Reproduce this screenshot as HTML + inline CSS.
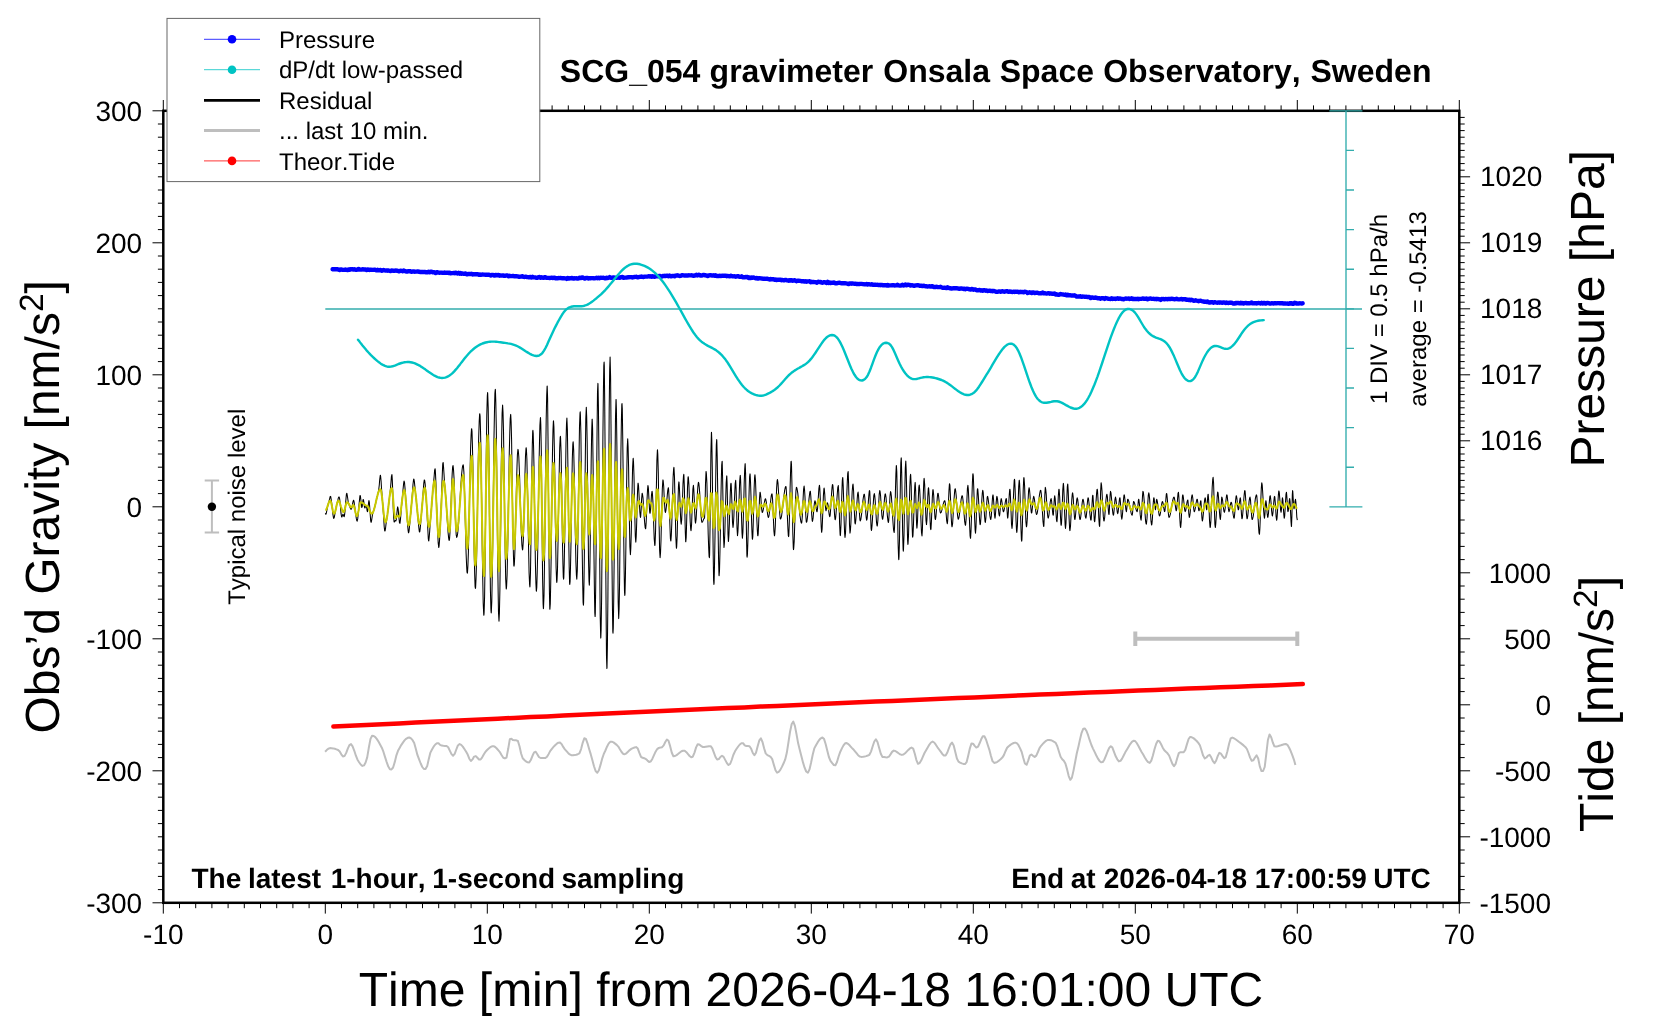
<!DOCTYPE html>
<html lang="en"><head><meta charset="utf-8"><title>SCG_054 gravimeter Onsala Space Observatory, Sweden</title>
<style>html,body{margin:0;padding:0;background:#fff;width:1660px;height:1020px;overflow:hidden}svg{display:block;will-change:transform;font-kerning:none}</style>
</head><body>
<svg width="1660" height="1020" viewBox="0 0 1660 1020" font-family='"Liberation Sans", Arial, Helvetica, sans-serif' text-rendering="geometricPrecision">
<rect width="1660" height="1020" fill="#fff"/>
<g id="curves">
<path d="M325.3,309H1362" stroke="#32adad" stroke-width="1.35" fill="none"/>
<path d="M332.6,269.2 333.6,269.3 334.6,269.3 335.6,269.1 336.6,269.3 337.6,269.2 338.6,269.6 339.6,270 340.6,269.5 341.6,269.5 342.6,269.9 343.6,269.9 344.6,269.8 345.6,269.5 346.6,269.8 347.6,270 348.6,269.4 349.6,269.7 350.6,269.2 351.6,269.4 352.6,269.2 353.6,269.6 354.6,269.3 355.6,269.7 356.6,269.7 357.6,269.6 358.6,268.9 359.6,269.5 360.6,269.6 361.6,269.6 362.6,269.2 363.6,269.5 364.6,269.4 365.6,269.4 366.6,270 367.6,269.5 368.6,269.7 369.6,270 370.6,269.6 371.6,269.8 372.6,269.9 373.6,269.9 374.6,269.6 375.6,270 376.6,270.4 377.6,269.7 378.6,270.4 379.6,270.2 380.6,270 381.6,270.8 382.6,270.5 383.6,270 384.6,270.4 385.6,270.6 386.6,270.4 387.6,270.7 388.6,270.5 389.6,270.8 390.6,271 391.6,270.5 392.6,270.7 393.6,270.6 394.6,270.8 395.6,270.5 396.6,270.7 397.6,270.8 398.6,271.2 399.6,271.3 400.6,270.6 401.6,270.8 402.6,271.2 403.6,270.5 404.6,271 405.6,271.2 406.6,271.6 407.6,271.5 408.6,271.2 409.6,271.2 410.6,271.3 411.6,271.9 412.6,271.4 413.6,271.4 414.6,271.7 415.6,271.6 416.6,271.6 417.6,271.4 418.6,271.7 419.6,271.7 420.6,272.1 421.6,272 422.6,271.9 423.6,272.1 424.6,271.9 425.6,272.3 426.6,272.1 427.6,272.3 428.6,271.8 429.6,272.3 430.6,271.7 431.6,271.7 432.6,272.2 433.6,272.1 434.6,272.4 435.6,273 436.6,272.2 437.6,272.3 438.6,272.6 439.6,272.7 440.6,272.6 441.6,272.6 442.6,272.9 443.6,272.9 444.6,272.5 445.6,272.8 446.6,272.9 447.6,272.6 448.6,273 449.6,272.7 450.6,273.3 451.6,273.1 452.6,273.1 453.6,273 454.6,273.2 455.6,272.7 456.6,273 457.6,273.5 458.6,272.8 459.6,273.7 460.6,273 461.6,273.8 462.6,273.4 463.6,273.9 464.6,273.8 465.6,273.4 466.6,274.2 467.6,274.3 468.6,273.9 469.6,273.9 470.6,274 471.6,273.8 472.6,274.5 473.6,274.1 474.6,274.3 475.6,274.1 476.6,274.2 477.6,274.1 478.6,274.8 479.6,274.5 480.6,274.9 481.6,274.6 482.6,274.5 483.6,274.6 484.6,274.6 485.6,274.8 486.6,274.8 487.6,274.8 488.6,274.6 489.6,274.8 490.6,275.5 491.6,274.9 492.6,274.9 493.6,275.3 494.6,275.6 495.6,274.9 496.6,275.3 497.6,275.2 498.6,274.9 499.6,275.7 500.6,275.5 501.6,275.6 502.6,275.4 503.6,275.8 504.6,275.6 505.6,275.7 506.6,275.5 507.6,275.5 508.6,276.3 509.6,275.8 510.6,276.1 511.6,276.1 512.6,276 513.6,276 514.6,276.4 515.6,276.2 516.6,276.3 517.6,276.4 518.6,276.7 519.6,276.7 520.6,276.6 521.6,276.4 522.6,276.2 523.6,276.9 524.6,277 525.6,276.7 526.6,277 527.6,277.1 528.6,277.2 529.6,277.2 530.6,276.9 531.6,277.5 532.6,276.8 533.6,277.4 534.6,277.4 535.6,277.5 536.6,277.9 537.6,277.8 538.6,277.1 539.6,277 540.6,277.8 541.6,277.3 542.6,277.6 543.6,277.9 544.6,277.3 545.6,277.2 546.6,277.9 547.6,277.9 548.6,277.9 549.6,278 550.6,277.8 551.6,277.6 552.6,278 553.6,277.8 554.6,277.7 555.6,278.3 556.6,278.2 557.6,278.3 558.6,278 559.6,278.1 560.6,278 561.6,278.1 562.6,278.4 563.6,278.1 564.6,278.4 565.6,278.4 566.6,278.9 567.6,278 568.6,278.6 569.6,278.3 570.6,278.4 571.6,278 572.6,278.2 573.6,278.6 574.6,278.3 575.6,278.4 576.6,278.3 577.6,278.6 578.6,278.3 579.6,277.7 580.6,278.1 581.6,277.7 582.6,277.4 583.6,278.1 584.6,278.6 585.6,278.2 586.6,277.9 587.6,277.9 588.6,278.5 589.6,278.2 590.6,278.2 591.6,278.1 592.6,278.1 593.6,278.3 594.6,278.3 595.6,278.1 596.6,277.8 597.6,278.2 598.6,277.8 599.6,278.3 600.6,277.6 601.6,277.9 602.6,277.9 603.6,277.6 604.6,278.4 605.6,278.3 606.6,277.7 607.6,278 608.6,277.9 609.6,277.1 610.6,277.8 611.6,277.7 612.6,277.7 613.6,277.4 614.6,277.6 615.6,277.6 616.6,277.9 617.6,277.7 618.6,277.5 619.6,277.9 620.6,277.3 621.6,277.3 622.6,276.9 623.6,277.8 624.6,277.6 625.6,277.6 626.6,277.5 627.6,277.3 628.6,277.3 629.6,277.1 630.6,277.1 631.6,277.2 632.6,277.5 633.6,277.2 634.6,277 635.6,276.9 636.6,276.8 637.6,277.4 638.6,277.1 639.6,276.9 640.6,276.8 641.6,276.5 642.6,276.8 643.6,277 644.6,276.6 645.6,276.6 646.6,276.6 647.6,276.6 648.6,276.1 649.6,276.5 650.6,276.3 651.6,276.7 652.6,276.2 653.6,276.6 654.6,276.8 655.6,276.3 656.6,276.1 657.6,276.3 658.6,276.2 659.6,275.9 660.6,276.3 661.6,276.7 662.6,276 663.6,276 664.6,275.8 665.6,276.1 666.6,275.6 667.6,275.7 668.6,276.3 669.6,275.6 670.6,276.2 671.6,276.3 672.6,275.9 673.6,275.9 674.6,276.3 675.6,275.7 676.6,275.5 677.6,275.3 678.6,275.7 679.6,276 680.6,275.9 681.6,275.3 682.6,275.3 683.6,275.4 684.6,275.6 685.6,275.4 686.6,275.5 687.6,275.5 688.6,275.3 689.6,275.4 690.6,275.4 691.6,275.3 692.6,275.5 693.6,275.8 694.6,275.5 695.6,275.3 696.6,274.8 697.6,275.4 698.6,274.8 699.6,274.9 700.6,275.6 701.6,275.5 702.6,275.3 703.6,274.9 704.6,275.3 705.6,275.2 706.6,275.6 707.6,276.1 708.6,275.5 709.6,275.3 710.6,275.2 711.6,275.5 712.6,275.5 713.6,275.3 714.6,275.7 715.6,275.3 716.6,276 717.6,276 718.6,276.1 719.6,275.7 720.6,276 721.6,275.8 722.6,275.8 723.6,275.8 724.6,275.6 725.6,275.6 726.6,276.2 727.6,276 728.6,276.2 729.6,276.4 730.6,275.7 731.6,276 732.6,276.3 733.6,276.4 734.6,276.3 735.6,276.7 736.6,276.5 737.6,276.2 738.6,276.3 739.6,276.9 740.6,276.9 741.6,276.3 742.6,277.3 743.6,277.1 744.6,277.4 745.6,277 746.6,277.2 747.6,277 748.6,278.1 749.6,277.5 750.6,278.1 751.6,277.5 752.6,277.9 753.6,277.4 754.6,277.9 755.6,278.4 756.6,277.9 757.6,278.6 758.6,278.5 759.6,278.2 760.6,278.4 761.6,278.5 762.6,278.7 763.6,278.7 764.6,278.7 765.6,278.9 766.6,278.8 767.6,278.8 768.6,279.2 769.6,279.5 770.6,278.9 771.6,279.4 772.6,279.3 773.6,279.3 774.6,279.8 775.6,279.5 776.6,280.1 777.6,279.6 778.6,279.9 779.6,279.8 780.6,279.7 781.6,280.2 782.6,280 783.6,280.3 784.6,280.2 785.6,279.9 786.6,280.3 787.6,280.4 788.6,280.7 789.6,280.2 790.6,280.5 791.6,280.1 792.6,280.8 793.6,280.4 794.6,280.3 795.6,280.8 796.6,281.2 797.6,280.6 798.6,280.7 799.6,280.9 800.6,280.9 801.6,281.4 802.6,281.1 803.6,281.2 804.6,281.6 805.6,281.3 806.6,281.7 807.6,281.4 808.6,281.4 809.6,281.3 810.6,282.3 811.6,281.8 812.6,282 813.6,282 814.6,282.1 815.6,282.1 816.6,282.7 817.6,281.9 818.6,281.8 819.6,282.1 820.6,282 821.6,282.6 822.6,282.7 823.6,282.3 824.6,282.2 825.6,282.5 826.6,283 827.6,281.9 828.6,282.9 829.6,282.5 830.6,283.1 831.6,282.6 832.6,282.8 833.6,282.5 834.6,282.7 835.6,283.4 836.6,283.3 837.6,283 838.6,282.9 839.6,282.6 840.6,283.1 841.6,283.2 842.6,283.3 843.6,283.3 844.6,283.1 845.6,283.4 846.6,283.4 847.6,283.9 848.6,284.1 849.6,283.5 850.6,283.4 851.6,283.7 852.6,283.5 853.6,283.6 854.6,283.8 855.6,283.6 856.6,284.1 857.6,283.9 858.6,284.1 859.6,284 860.6,283.9 861.6,283.9 862.6,284.1 863.6,284.1 864.6,284.4 865.6,284.4 866.6,284 867.6,284.5 868.6,284.1 869.6,284.4 870.6,284.6 871.6,284.1 872.6,284.8 873.6,284.8 874.6,284.8 875.6,284.8 876.6,284.9 877.6,284.8 878.6,285 879.6,285 880.6,285.2 881.6,284.9 882.6,285.3 883.6,285.3 884.6,285.3 885.6,285.2 886.6,285.5 887.6,284.9 888.6,285.5 889.6,285.4 890.6,285.4 891.6,285.4 892.6,285.1 893.6,285.2 894.6,285.5 895.6,285.4 896.6,285.3 897.6,284.8 898.6,285.4 899.6,285.6 900.6,285.5 901.6,285.3 902.6,284.8 903.6,285.5 904.6,285.1 905.6,284.5 906.6,285.3 907.6,284.8 908.6,284.8 909.6,285 910.6,285.6 911.6,285.1 912.6,285.4 913.6,285.8 914.6,285.8 915.6,285.4 916.6,285.4 917.6,285.1 918.6,285.4 919.6,285.7 920.6,285.8 921.6,285.8 922.6,286.1 923.6,285.7 924.6,286 925.6,286.3 926.6,286.3 927.6,286.5 928.6,286.4 929.6,286.3 930.6,286.6 931.6,286.3 932.6,286.2 933.6,287 934.6,286.9 935.6,287.1 936.6,286.6 937.6,287.1 938.6,287.1 939.6,287.1 940.6,286.8 941.6,287.4 942.6,287.9 943.6,287.8 944.6,287.6 945.6,287.8 946.6,288.1 947.6,287.2 948.6,287.9 949.6,288.2 950.6,288.2 951.6,288.6 952.6,288.4 953.6,288.2 954.6,288.3 955.6,288.4 956.6,288.1 957.6,288.3 958.6,288.6 959.6,288.9 960.6,288.4 961.6,288.5 962.6,288.6 963.6,289 964.6,288.7 965.6,289.2 966.6,288.6 967.6,288.9 968.6,289 969.6,289.4 970.6,289.6 971.6,289 972.6,289.2 973.6,289.7 974.6,289.5 975.6,289.4 976.6,290.2 977.6,290.1 978.6,290.2 979.6,290 980.6,290.5 981.6,290.3 982.6,290.7 983.6,290.2 984.6,290.3 985.6,290.7 986.6,290.5 987.6,291 988.6,290.9 989.6,290.6 990.6,291 991.6,290.9 992.6,291.3 993.6,290.9 994.6,291.1 995.6,291.6 996.6,291.9 997.6,291.9 998.6,291.4 999.6,291.4 1000.6,291.9 1001.6,291.4 1002.6,291.2 1003.6,291.6 1004.6,291.7 1005.6,291.4 1006.6,291.2 1007.6,291.2 1008.6,291.9 1009.6,291.5 1010.6,291.7 1011.6,291.8 1012.6,292 1013.6,291.7 1014.6,292 1015.6,291.6 1016.6,291.8 1017.6,291.6 1018.6,292.3 1019.6,292 1020.6,291.8 1021.6,292 1022.6,292 1023.6,292.3 1024.6,291.7 1025.6,291.9 1026.6,292.1 1027.6,293 1028.6,292.6 1029.6,292.3 1030.6,292.6 1031.6,293 1032.6,292.4 1033.6,292.5 1034.6,293 1035.6,292.8 1036.6,292.9 1037.6,292.6 1038.6,293.4 1039.6,293.4 1040.6,293.1 1041.6,293.2 1042.6,292.5 1043.6,293.4 1044.6,293.2 1045.6,293.4 1046.6,293.6 1047.6,293.4 1048.6,293.1 1049.6,293.7 1050.6,293.5 1051.6,293.7 1052.6,293.7 1053.6,293.9 1054.6,293.4 1055.6,294.5 1056.6,294.3 1057.6,294.6 1058.6,294.9 1059.6,294.5 1060.6,294 1061.6,294.4 1062.6,294.4 1063.6,294.7 1064.6,294.9 1065.6,294.4 1066.6,295.2 1067.6,294.7 1068.6,295.3 1069.6,295.3 1070.6,295.3 1071.6,295.5 1072.6,295.4 1073.6,295.5 1074.6,295.3 1075.6,295.9 1076.6,296.5 1077.6,296.6 1078.6,296.5 1079.6,296.5 1080.6,296.2 1081.6,296.9 1082.6,296.5 1083.6,296.6 1084.6,296.7 1085.6,296.9 1086.6,296.8 1087.6,297 1088.6,296.9 1089.6,297.2 1090.6,298 1091.6,297.4 1092.6,297.5 1093.6,297.8 1094.6,297.9 1095.6,297.5 1096.6,297.9 1097.6,298.3 1098.6,298.2 1099.6,298.2 1100.6,298.7 1101.6,298.1 1102.6,298.4 1103.6,298.3 1104.6,298.9 1105.6,298 1106.6,298.4 1107.6,298.5 1108.6,298.9 1109.6,298.9 1110.6,299.1 1111.6,298.3 1112.6,299 1113.6,298.7 1114.6,298.6 1115.6,299 1116.6,298.6 1117.6,298.3 1118.6,298.8 1119.6,298.5 1120.6,298.7 1121.6,299 1122.6,299 1123.6,299.3 1124.6,298.8 1125.6,298.5 1126.6,298.7 1127.6,298.6 1128.6,298.5 1129.6,299 1130.6,298.7 1131.6,298.3 1132.6,299.1 1133.6,298.8 1134.6,299 1135.6,298.9 1136.6,299 1137.6,298.8 1138.6,299.2 1139.6,298.9 1140.6,298.9 1141.6,298.9 1142.6,298.4 1143.6,298.8 1144.6,298.8 1145.6,298.9 1146.6,298.5 1147.6,299.3 1148.6,298.9 1149.6,298.6 1150.6,298.4 1151.6,298.9 1152.6,298.9 1153.6,298.8 1154.6,299 1155.6,298.9 1156.6,299.2 1157.6,298.9 1158.6,299.1 1159.6,299.4 1160.6,299.9 1161.6,298.9 1162.6,299.1 1163.6,299 1164.6,299.4 1165.6,298.9 1166.6,299.1 1167.6,299.2 1168.6,298.9 1169.6,298.9 1170.6,299.1 1171.6,298.6 1172.6,298.8 1173.6,299.1 1174.6,299.2 1175.6,299.1 1176.6,298.7 1177.6,299.1 1178.6,299.4 1179.6,299.4 1180.6,299.2 1181.6,299 1182.6,299.5 1183.6,299.2 1184.6,299.1 1185.6,299.2 1186.6,299.9 1187.6,299.7 1188.6,300 1189.6,299.7 1190.6,300.2 1191.6,299.8 1192.6,300.1 1193.6,300.9 1194.6,300.6 1195.6,300.3 1196.6,300.6 1197.6,300.8 1198.6,301.2 1199.6,300.8 1200.6,300.6 1201.6,301.1 1202.6,301.3 1203.6,301.5 1204.6,301.9 1205.6,301.7 1206.6,302 1207.6,301.5 1208.6,302.2 1209.6,302.6 1210.6,302.3 1211.6,302.2 1212.6,302.3 1213.6,302.8 1214.6,302.1 1215.6,302.4 1216.6,302.6 1217.6,302.7 1218.6,302.4 1219.6,302.7 1220.6,302.5 1221.6,302.7 1222.6,302.7 1223.6,302.4 1224.6,302.7 1225.6,303 1226.6,302.5 1227.6,302.8 1228.6,303 1229.6,302.6 1230.6,302.9 1231.6,302.6 1232.6,303.2 1233.6,303.6 1234.6,303.5 1235.6,302.9 1236.6,303.2 1237.6,303 1238.6,303 1239.6,303.4 1240.6,302.7 1241.6,303.3 1242.6,303 1243.6,303.5 1244.6,303.1 1245.6,302.9 1246.6,303.2 1247.6,303.3 1248.6,303.1 1249.6,303.3 1250.6,303 1251.6,302.5 1252.6,303.4 1253.6,303.4 1254.6,303.2 1255.6,303.2 1256.6,303.5 1257.6,303.1 1258.6,303 1259.6,303.1 1260.6,303.5 1261.6,302.8 1262.6,303.5 1263.6,303 1264.6,302.9 1265.6,303.6 1266.6,303.2 1267.6,302.9 1268.6,303.1 1269.6,303.5 1270.6,303.6 1271.6,303.1 1272.6,303.4 1273.6,303.5 1274.6,303.1 1275.6,303.4 1276.6,303.3 1277.6,303.1 1278.6,303.1 1279.6,303.3 1280.6,303.3 1281.6,303.1 1282.6,303.2 1283.6,303.6 1284.6,303.4 1285.6,303.5 1286.6,303.6 1287.6,303.5 1288.6,303.9 1289.6,303.1 1290.6,303.5 1291.6,303.2 1292.6,303.8 1293.6,303.8 1294.6,302.8 1295.6,303 1296.6,303.5 1297.6,303.5 1298.6,303.5 1299.6,303.3 1300.6,303.4 1301.6,303.5 1302.6,303.3" fill="none" stroke="#0000ff" stroke-width="4.4" stroke-linecap="round" stroke-linejoin="round"/>
<path d="M358,339.7 359.5,341.6 361,343.6 362.5,345.5 364,347.3 365.5,349.1 367,350.9 368.5,352.5 370,354.1 371.5,355.7 373,357.1 374.5,358.5 376,359.8 377.5,361.1 379,362.3 380.5,363.4 382,364.4 383.5,365.2 385,365.9 386.5,366.4 388,366.7 389.5,366.8 391,366.6 392.5,366.3 394,365.8 395.5,365.3 397,364.7 398.5,364 400,363.5 401.5,363 403,362.6 404.5,362.3 406,362.1 407.5,362 409,362 410.5,362.2 412,362.5 413.5,362.9 415,363.4 416.5,364.1 418,364.8 419.5,365.6 421,366.6 422.5,367.5 424,368.6 425.5,369.6 427,370.7 428.5,371.8 430,372.8 431.5,373.8 433,374.8 434.5,375.7 436,376.4 437.5,377.1 439,377.5 440.5,377.9 442,378 443.5,377.9 445,377.6 446.5,377.1 448,376.4 449.5,375.5 451,374.4 452.5,373.1 454,371.6 455.5,369.9 457,368.2 458.5,366.3 460,364.4 461.5,362.4 463,360.5 464.5,358.6 466,356.7 467.5,355 469,353.3 470.5,351.7 472,350.3 473.5,349 475,347.8 476.5,346.7 478,345.7 479.5,344.9 481,344.2 482.5,343.5 484,343 485.5,342.5 487,342.2 488.5,341.9 490,341.7 491.5,341.6 493,341.6 494.5,341.6 496,341.7 497.5,341.9 499,342.1 500.5,342.3 502,342.5 503.5,342.7 505,342.9 506.5,343.1 508,343.4 509.5,343.6 511,343.9 512.5,344.3 514,344.8 515.5,345.3 517,346 518.5,346.8 520,347.6 521.5,348.5 523,349.5 524.5,350.5 526,351.5 527.5,352.4 529,353.3 530.5,354.2 532,354.9 533.5,355.4 535,355.8 536.5,356 538,355.8 539.5,355.3 541,354.3 542.5,352.8 544,350.6 545.5,348 547,344.9 548.5,341.6 550,338.2 551.5,334.9 553,331.7 554.5,328.6 556,325.6 557.5,322.7 559,320 560.5,317.3 562,314.8 563.5,312.6 565,310.7 566.5,309.2 568,308.1 569.5,307.3 571,306.8 572.5,306.5 574,306.3 575.5,306.3 577,306.3 578.5,306.3 580,306.3 581.5,306.2 583,306 584.5,305.7 586,305.2 587.5,304.6 589,303.7 590.5,302.8 592,301.7 593.5,300.6 595,299.4 596.5,298.2 598,296.9 599.5,295.6 601,294.3 602.5,292.8 604,291.3 605.5,289.8 607,288.1 608.5,286.4 610,284.6 611.5,282.8 613,280.9 614.5,279 616,277.2 617.5,275.4 619,273.7 620.5,272 622,270.4 623.5,269 625,267.7 626.5,266.6 628,265.7 629.5,264.9 631,264.4 632.5,264 634,263.8 635.5,263.7 637,263.8 638.5,264 640,264.3 641.5,264.8 643,265.3 644.5,265.9 646,266.6 647.5,267.4 649,268.3 650.5,269.3 652,270.4 653.5,271.6 655,272.9 656.5,274.4 658,276 659.5,277.7 661,279.4 662.5,281.3 664,283.3 665.5,285.4 667,287.6 668.5,289.9 670,292.2 671.5,294.6 673,297.1 674.5,299.6 676,302.2 677.5,304.8 679,307.5 680.5,310.2 682,312.9 683.5,315.6 685,318.3 686.5,321 688,323.6 689.5,326.2 691,328.6 692.5,331 694,333.3 695.5,335.3 697,337.2 698.5,338.9 700,340.4 701.5,341.7 703,342.8 704.5,343.8 706,344.7 707.5,345.6 709,346.4 710.5,347.1 712,347.9 713.5,348.7 715,349.6 716.5,350.6 718,351.7 719.5,353 721,354.4 722.5,355.9 724,357.7 725.5,359.6 727,361.7 728.5,364 730,366.4 731.5,368.9 733,371.4 734.5,373.9 736,376.3 737.5,378.7 739,380.9 740.5,383 742,384.9 743.5,386.7 745,388.3 746.5,389.7 748,391 749.5,392 751,392.9 752.5,393.7 754,394.3 755.5,394.9 757,395.3 758.5,395.6 760,395.8 761.5,395.7 763,395.5 764.5,395.1 766,394.6 767.5,393.9 769,393.2 770.5,392.4 772,391.5 773.5,390.6 775,389.5 776.5,388.3 778,387 779.5,385.5 781,383.9 782.5,382.2 784,380.5 785.5,378.7 787,377.1 788.5,375.5 790,374.1 791.5,372.8 793,371.7 794.5,370.6 796,369.7 797.5,368.8 799,368 800.5,367.1 802,366.3 803.5,365.4 805,364.5 806.5,363.4 808,362.1 809.5,360.6 811,358.9 812.5,357 814,354.9 815.5,352.7 817,350.4 818.5,348.1 820,345.8 821.5,343.6 823,341.5 824.5,339.6 826,338 827.5,336.7 829,335.8 830.5,335.2 832,335 833.5,335.2 835,335.9 836.5,337.1 838,338.8 839.5,341.1 841,343.9 842.5,347.1 844,350.5 845.5,354.2 847,358 848.5,361.8 850,365.5 851.5,369 853,372.1 854.5,374.8 856,377 857.5,378.7 859,379.8 860.5,380.4 862,380.5 863.5,380 865,379 866.5,377.3 868,374.8 869.5,371.5 871,367.7 872.5,363.6 874,359.4 875.5,355.5 877,352 878.5,349.1 880,346.7 881.5,344.9 883,343.7 884.5,343 886,342.8 887.5,343 889,343.7 890.5,345 892,347.1 893.5,349.9 895,353.2 896.5,356.7 898,360.2 899.5,363.5 901,366.5 902.5,369.2 904,371.5 905.5,373.5 907,375.3 908.5,376.7 910,377.8 911.5,378.6 913,379 914.5,379.1 916,379 917.5,378.7 919,378.3 920.5,377.9 922,377.6 923.5,377.3 925,377.1 926.5,377 928,377 929.5,377.1 931,377.3 932.5,377.5 934,377.8 935.5,378.1 937,378.5 938.5,379 940,379.5 941.5,380 943,380.7 944.5,381.4 946,382.2 947.5,383.1 949,384.2 950.5,385.3 952,386.4 953.5,387.6 955,388.8 956.5,389.9 958,391 959.5,392 961,392.9 962.5,393.7 964,394.3 965.5,394.8 967,395 968.5,395 970,394.7 971.5,394.2 973,393.3 974.5,392.2 976,390.7 977.5,388.8 979,386.7 980.5,384.4 982,382 983.5,379.6 985,377.1 986.5,374.7 988,372.3 989.5,369.8 991,367.3 992.5,364.7 994,362.2 995.5,359.7 997,357.2 998.5,354.8 1000,352.6 1001.5,350.5 1003,348.6 1004.5,346.9 1006,345.6 1007.5,344.5 1009,343.9 1010.5,343.6 1012,343.8 1013.5,344.5 1015,345.8 1016.5,347.7 1018,350.3 1019.5,353.5 1021,357.2 1022.5,361.3 1024,365.6 1025.5,370.1 1027,374.7 1028.5,379.1 1030,383.3 1031.5,387.2 1033,390.8 1034.5,393.9 1036,396.6 1037.5,398.7 1039,400.3 1040.5,401.5 1042,402.3 1043.5,402.7 1045,402.8 1046.5,402.8 1048,402.5 1049.5,402.2 1051,401.9 1052.5,401.5 1054,401.3 1055.5,401.1 1057,401.2 1058.5,401.5 1060,402 1061.5,402.7 1063,403.4 1064.5,404.2 1066,405.1 1067.5,405.9 1069,406.7 1070.5,407.5 1072,408 1073.5,408.5 1075,408.7 1076.5,408.7 1078,408.4 1079.5,407.8 1081,406.9 1082.5,405.7 1084,404.2 1085.5,402.3 1087,400.1 1088.5,397.5 1090,394.7 1091.5,391.5 1093,388.1 1094.5,384.5 1096,380.6 1097.5,376.6 1099,372.3 1100.5,367.9 1102,363.5 1103.5,358.9 1105,354.3 1106.5,349.8 1108,345.3 1109.5,340.9 1111,336.7 1112.5,332.6 1114,328.7 1115.5,325.1 1117,321.7 1118.5,318.7 1120,316 1121.5,313.7 1123,311.8 1124.5,310.4 1126,309.5 1127.5,309 1129,308.9 1130.5,309.3 1132,310 1133.5,311.1 1135,312.6 1136.5,314.6 1138,316.9 1139.5,319.4 1141,322 1142.5,324.5 1144,327 1145.5,329.1 1147,331 1148.5,332.6 1150,334 1151.5,335.2 1153,336.1 1154.5,336.9 1156,337.6 1157.5,338.1 1159,338.7 1160.5,339.2 1162,339.9 1163.5,340.7 1165,341.8 1166.5,343.2 1168,345 1169.5,347.2 1171,349.9 1172.5,352.9 1174,356.1 1175.5,359.6 1177,363.2 1178.5,366.8 1180,370.3 1181.5,373.3 1183,375.9 1184.5,378 1186,379.6 1187.5,380.6 1189,381.1 1190.5,381.1 1192,380.4 1193.5,379.1 1195,377.2 1196.5,374.5 1198,371.4 1199.5,367.9 1201,364.4 1202.5,360.9 1204,357.8 1205.5,355 1207,352.5 1208.5,350.4 1210,348.7 1211.5,347.4 1213,346.5 1214.5,346 1216,345.9 1217.5,346.1 1219,346.6 1220.5,347.2 1222,347.8 1223.5,348.4 1225,348.8 1226.5,348.9 1228,348.7 1229.5,348.1 1231,347.2 1232.5,345.9 1234,344.4 1235.5,342.6 1237,340.5 1238.5,338.3 1240,336 1241.5,333.7 1243,331.5 1244.5,329.5 1246,327.8 1247.5,326.2 1249,324.9 1250.5,323.8 1252,322.9 1253.5,322.2 1255,321.6 1256.5,321.1 1258,320.8 1259.5,320.5 1261,320.4 1262.5,320.2 1263.7,320.1" fill="none" stroke="#00c3c3" stroke-width="2.4" stroke-linejoin="round" stroke-linecap="round"/>
<path d="M325.3,513.2 325.8,514.2 325.9,514.2 326.2,513.6 326.6,511.6 327.1,509.1 327.5,506.9 328,505 328.4,503.5 328.9,501.9 329.3,500.1 329.8,498.1 330.2,496.5 330.6,496.4 330.7,496.6 331.1,498.9 331.6,502.4 332,506.3 332.5,510.3 332.9,514.2 333.4,517.3 333.7,518.3 333.8,518.4 334.3,517.3 334.7,515 335.2,512.5 335.6,510.1 336.1,507.9 336.5,505.7 337,503.7 337.4,501.8 337.9,499.9 338.3,498.1 338.8,496.9 339.2,496.9 339.2,497 339.7,499.2 340.1,503.1 340.6,508.1 341,513.1 341.5,516.5 341.6,516.8 341.9,517 342.4,515.6 342.8,514.3 343,514.2 343.3,514.7 343.7,516.2 344.2,516.7 344.3,516.4 344.6,514.7 345.1,510.3 345.5,504.5 346,498.6 346.4,494.3 346.7,493.3 346.9,493.3 347.3,495.6 347.8,499 348.2,501.7 348.7,503.4 349.1,504.7 349.6,505.9 350,507.2 350.5,508.5 350.9,509.3 351,509.3 351.4,509.1 351.8,507.8 352.3,505.7 352.7,503.2 353.2,500.9 353.6,500.2 353.7,500.3 354.1,501.9 354.5,505.1 355,508.8 355.4,512.2 355.9,515.3 356.3,518.4 356.8,520.7 357.2,521.1 357.2,521 357.7,518.9 358.1,515 358.6,510.3 359,505 359.5,499.7 359.9,496 360.1,495.5 360.4,495.8 360.8,499.3 361.3,504.2 361.7,507.5 362.2,506.9 362.2,506.9 362.6,502.9 363,500 363.1,499.5 363.5,499.8 364,503.2 364.4,506.7 364.7,507.7 364.9,508 365.3,507.2 365.8,505.6 366.2,505.5 366.7,507.7 366.7,507.7 367.1,510.8 367.4,511.7 367.6,511.5 368,508.2 368.5,503.2 368.9,500.5 369,500.5 369.4,502.7 369.8,508.7 370.3,515.8 370.7,520.9 371,522.2 371.2,522.3 371.6,520.3 372.1,517.1 372.5,514.5 373,512.7 373.4,511.3 373.9,510 374.3,508.5 374.8,506.8 375.2,504.9 375.7,503 376.1,501 376.6,499.1 377,497.2 377.5,495.4 377.9,493.6 378.4,491.7 378.8,489 379.3,484.8 379.7,479.5 380.2,475.7 380.4,475.2 380.6,476.1 381.1,481.2 381.5,488.2 382,494.8 382.4,500.4 382.9,506 383.3,512.3 383.8,519.6 384.2,526.7 384.7,530.9 384.7,530.9 385.1,530.9 385.6,527.8 386,524.1 386.5,520.9 386.9,518 387.4,514.9 387.8,511.5 388.3,507.7 388.7,503.9 389.2,500 389.6,496.3 390.1,492.5 390.5,488 391,482.3 391.4,476.6 391.9,474.5 392,475 392.3,480.1 392.8,492.8 393.2,507.3 393.7,517.8 393.7,517.8 394.1,521.9 394.6,521.7 395,520.8 395,520.8 395.5,520.6 395.9,520.9 396.4,519.1 396.4,519.1 396.8,514.2 397.3,508.9 397.6,507.1 397.7,506.9 398.2,509.2 398.6,514.1 399.1,519.3 399.5,522.9 400,523.3 400,523.3 400.4,520 400.9,514.5 401.3,508.7 401.8,503.5 402.2,498.9 402.7,494.1 403.1,488.8 403.6,483.8 404,481.2 404.1,481.1 404.5,482.3 404.9,486.9 405.4,493.1 405.8,499.4 406.3,505.7 406.7,512.1 407.2,518.5 407.6,525 408.1,530.3 408.5,532.8 408.6,532.8 409,531.4 409.4,527.4 409.9,522.4 410.3,517.3 410.8,512.4 411.2,507.4 411.7,502.2 412.1,496.7 412.6,490.5 413,484.4 413.5,480 413.7,479.1 413.9,479.1 414.4,481.7 414.8,485.9 415.3,490.4 415.7,494.7 416.2,499.1 416.6,503.7 417.1,508.5 417.5,513.3 418,518.1 418.4,523.1 418.9,528.1 419.3,531.4 419.6,532 419.8,531.6 420.2,528.4 420.7,523.2 421.1,517.7 421.6,512.3 422,507 422.5,501.4 422.9,495.3 423.4,488.8 423.8,483 424.3,479.9 424.3,479.9 424.7,480.6 425.2,484.6 425.6,490.3 426.1,496.6 426.5,503.5 427,511.4 427.4,520.9 427.9,530.9 428.3,538.7 428.6,540.7 428.8,540.9 429.2,537.2 429.7,530.9 430.1,524.6 430.6,518.9 431,513.4 431.5,507.7 431.9,501.9 432.4,496.2 432.8,490.9 433.3,486 433.7,481.1 434.2,475.7 434.6,470.4 435.1,468.7 435.3,470.1 435.5,473.8 436,485 436.4,498.7 436.9,511.8 437.3,523.5 437.8,534.2 438.2,542.9 438.7,547.3 438.8,547.5 439.1,545.8 439.6,539.5 440,530.8 440.5,521.6 440.9,511.9 441.4,500.8 441.8,487.7 442.3,474.2 442.7,464.5 442.9,462.9 443.2,462.6 443.6,467.9 444.1,475.5 444.5,482.2 445,487.8 445.4,492.9 445.9,498.8 446.3,505.4 446.8,512.5 447.2,519.5 447.7,526.4 448.1,532.7 448.6,537.6 449,540.2 449.2,540.4 449.5,539.4 449.9,533.6 450.4,523.6 450.8,510.8 451.3,496.8 451.7,483.9 452.2,473.5 452.6,467.2 453,465.6 453.1,465.7 453.5,469.4 454,477.8 454.4,489.5 454.9,503 455.3,516.3 455.8,527.4 456.2,534.8 456.7,537.4 456.7,537.4 457.1,536.5 457.6,534 458,529.9 458.5,524.5 458.9,518 459.4,510.6 459.8,502.9 460.3,495 460.7,487.4 461.2,480.5 461.6,474.5 462.1,469.8 462.5,466.6 463,465 463.2,464.8 463.4,465.8 463.9,472.4 464.3,484.5 464.8,500.7 465.2,519 465.7,537.3 466.1,553.5 466.6,565.6 467,572.2 467.3,573.2 467.5,572.5 467.9,565.6 468.4,552 468.8,533.3 469.3,511.2 469.7,488.1 470.2,466.3 470.6,448.1 471.1,435.2 471.5,429.1 471.7,428.7 472,431.3 472.4,444.4 472.9,466.7 473.3,495.1 473.8,525.4 474.2,553.3 474.7,574.8 475.1,586.7 475.4,588.5 475.6,587.6 476,579.3 476.5,562.9 476.9,540.2 477.4,513.5 477.8,485.6 478.3,459.2 478.7,437.1 479.2,421.6 479.6,414.2 479.8,413.7 480.1,416.4 480.5,429.9 481,453.4 481.4,484.1 481.9,518.4 482.3,552.2 482.8,581.6 483.2,603.1 483.7,614.1 483.9,615.3 484.1,612.8 484.6,596.2 485,566.3 485.5,527.4 485.9,485.1 486.4,445.6 486.8,414.4 487.3,396.2 487.6,392.6 487.7,393.5 488.2,407.4 488.6,435.7 489.1,474.2 489.5,517.1 490,557.8 490.4,590.1 490.9,609.1 491.2,612.9 491.3,612.2 491.8,601.3 492.2,578.6 492.7,546.8 493.1,509.7 493.6,471.5 494,436.8 494.5,409.7 494.9,393.3 495.3,389.3 495.4,389.7 495.8,401.7 496.3,428.6 496.7,466.6 497.2,510.2 497.6,553 498.1,589 498.5,612.8 499,621.2 499,621.2 499.4,613 499.9,589.6 500.3,554.5 500.8,513.2 501.2,471.8 501.7,436.7 502.1,413.3 502.6,405.1 502.6,405.1 503,411.7 503.5,430.7 503.9,459.2 504.4,493.1 504.8,527.7 505.3,557.8 505.7,579.2 506.2,588.7 506.3,589 506.6,586.3 507.1,575.1 507.5,556.5 508,532.2 508.4,504.8 508.9,477.1 509.3,451.9 509.8,431.8 510.2,418.9 510.7,414.4 510.7,414.4 511.1,421.3 511.6,440.6 512,468.9 512.5,501.1 512.9,531.3 513.4,554.2 513.8,565.4 514,566.2 514.3,564.6 514.7,556.4 515.2,542.1 515.6,523.7 516.1,503.2 516.5,483.4 517,466.5 517.4,454.8 517.9,449.6 518,449.4 518.3,450.8 518.8,456.7 519.2,466.6 519.7,479.6 520.1,494.5 520.6,509.9 521,524.3 521.5,536.4 521.9,545 522.4,549.4 522.6,549.9 522.8,548.7 523.3,540.7 523.7,526.3 524.2,507.7 524.6,487.7 525.1,469.5 525.5,455.7 526,448.5 526.2,447.7 526.4,449.3 526.9,459.6 527.3,478.3 527.8,502.6 528.2,529.1 528.7,553.8 529.1,573.3 529.6,584.7 529.9,586.9 530,585.9 530.5,571.9 530.9,544.1 531.4,508.6 531.8,473.1 532.3,445.3 532.7,431.3 532.9,430.3 533.2,433.2 533.6,447.8 534.1,472.6 534.5,503.5 535,535.5 535.4,563.6 535.9,583.1 536.3,591 536.4,591.1 536.8,587.1 537.2,573.3 537.7,551.5 538.1,524.1 538.6,494.4 539,465.9 539.5,441.8 539.9,425.2 540.4,417.9 540.5,417.6 540.8,424.4 541.3,451.3 541.7,492.6 542.2,538.8 542.6,578.9 543.1,603.8 543.4,608.8 543.5,607.9 544,595.4 544.4,569.4 544.9,533.6 545.3,492.8 545.8,452.7 546.2,418.7 546.7,395.5 547.1,386.2 547.2,386.1 547.6,398 548,436.4 548.5,491.2 548.9,547.8 549.4,590.9 549.8,609.1 549.9,609.3 550.3,603.6 550.7,584.6 551.2,554.9 551.6,519.2 552.1,482.9 552.5,451.5 553,429.7 553.4,421 553.5,420.9 553.9,426.7 554.3,445.9 554.8,475.3 555.2,509.4 555.7,542.1 556.1,567.5 556.6,581 556.8,582.5 557,580.8 557.5,569.3 557.9,548.7 558.4,522.1 558.8,493.6 559.3,467.5 559.7,447.7 560.2,437.4 560.4,436.3 560.6,438.4 561.1,452.5 561.5,477.2 562,507.7 562.4,538.3 562.9,563 563.3,577.1 563.6,579.2 563.8,577.7 564.2,564.3 564.7,538.9 565.1,506.3 565.6,472.3 566,443.1 566.5,423.9 566.9,418.1 566.9,418.2 567.4,430 567.8,458.4 568.3,496.7 568.7,536.2 569.2,567.4 569.6,583.3 569.8,584.4 570.1,581.5 570.5,567 571,542.7 571.4,513.1 571.9,483.4 572.3,459.1 572.8,444.6 573.1,441.7 573.2,442.3 573.7,450.4 574.1,467.3 574.6,490.3 575,516.3 575.5,541.4 575.9,562.1 576.4,575.3 576.8,579.2 576.8,579.1 577.3,570.4 577.7,549 578.2,518.4 578.6,483.9 579.1,451.4 579.5,426.4 580,413.2 580.2,411.8 580.4,414.7 580.9,433.8 581.3,467.2 581.8,508.5 582.2,549.9 582.7,583.3 583.1,602.4 583.4,605.3 583.6,603 584,581.7 584.5,542.9 584.9,495.5 585.4,450.7 585.8,418.7 586.3,407.2 586.3,407.2 586.7,416.9 587.2,443.9 587.6,482.3 588.1,523.7 588.5,559.1 589,580.8 589.3,585.2 589.4,584.1 589.9,568.3 590.3,537.1 590.8,497.7 591.2,459.4 591.7,431.1 592.1,419.3 592.2,419.2 592.6,428.3 593,458.2 593.5,501.9 593.9,549.4 594.4,589.6 594.8,613 595.1,616.6 595.3,613.7 595.7,586.9 596.2,538.5 596.6,480.5 597.1,427.3 597.5,392.3 597.9,383.4 598,384.1 598.4,405.3 598.9,451.1 599.3,510.7 599.8,570.4 600.2,616.2 600.7,637.4 600.8,638.1 601.1,630.5 601.6,600 602,551.4 602.5,493.5 602.9,436.8 603.4,391.5 603.8,365.9 604.1,362 604.3,365.8 604.7,401 605.2,464.6 605.6,540.9 606.1,610.7 606.5,656.7 606.9,668.4 607,667.7 607.4,646.3 607.9,599.2 608.3,535.6 608.8,467.6 609.2,408.2 609.7,368.9 610.1,357.1 610.1,357.3 610.6,376.9 611,424 611.5,487.7 611.9,553.1 612.4,605.1 612.8,631.4 613,633.2 613.3,627.8 613.7,601 614.2,556.9 614.6,504.5 615.1,454.5 615.5,417.1 616,400 616.1,399.4 616.4,409.1 616.9,446.7 617.3,502.4 617.8,559.9 618.2,602.8 618.7,618.6 618.7,618.6 619.1,608.9 619.6,581.5 620,541.4 620.5,495.7 620.9,452.9 621.4,420.6 621.8,404.6 622,403.5 622.3,408.9 622.7,435.5 623.2,478.1 623.6,526.1 624.1,567.4 624.5,591.7 624.8,595.5 625,593.7 625.4,576.9 625.9,546.2 626.3,508.7 626.8,473.2 627.2,447.9 627.7,438.8 627.7,438.8 628.1,446.6 628.6,467.8 629,496.8 629.5,525.8 629.9,547 630.4,554.8 630.4,554.8 630.8,548.8 631.3,532.2 631.7,509.3 632.2,485.6 632.6,467.2 633.1,458.6 633.2,458.3 633.5,462 634,476.4 634.4,497.7 634.9,519.7 635.3,536.1 635.8,542.1 635.8,542.1 636.2,536.7 636.7,522.5 637.1,504.7 637.6,489.8 638,483.3 638.1,483.2 638.5,485.5 638.9,492.7 639.4,502.5 639.8,511.6 640.3,516.8 640.5,517.4 640.7,516.1 641.2,508.6 641.6,499 642.1,493.5 642.2,493.3 642.5,494.2 643,497.9 643.4,503.9 643.9,511 644.3,518.2 644.8,524.2 645.2,527.9 645.6,528.8 645.7,528.6 646.1,523.4 646.6,512.8 647,500.3 647.5,490.1 647.9,485.6 648,485.6 648.4,488.2 648.8,496.2 649.3,505.7 649.7,512.2 650,513.3 650.2,512.8 650.6,508.5 651.1,501.5 651.5,494.8 652,491.4 652.1,491.3 652.4,493.4 652.9,501.5 653.3,513.9 653.8,527.4 654.2,538.6 654.7,544.8 654.9,545.5 655.1,543.3 655.6,529.4 656,506.3 656.5,480.7 656.9,460 657.4,450.1 657.5,449.8 657.8,454.6 658.3,473.1 658.7,500.5 659.2,528.8 659.6,549.9 660.1,557.7 660.1,557.7 660.5,553.2 661,540.6 661.4,523 661.9,504.4 662.3,489.2 662.8,480.8 663,479.9 663.2,480.8 663.7,486.3 664.1,495.1 664.6,504.3 665,510.8 665.4,512.5 665.5,512.4 665.9,510.5 666.4,506.3 666.8,500.8 667.3,495.1 667.7,490.6 668.2,488.1 668.4,487.8 668.6,489.2 669.1,498.2 669.5,512.7 670,527.7 670.4,538.3 670.8,541 670.9,540.8 671.3,535.4 671.8,523.6 672.2,507.9 672.7,491.4 673.1,477.4 673.6,469 673.9,467.3 674,468 674.5,477.5 674.9,495.8 675.4,517.5 675.8,536.4 676.3,547.1 676.5,548.3 676.7,546.5 677.2,535.3 677.6,517.3 678.1,498.5 678.5,485.3 678.9,481.9 679,482.1 679.4,487.6 679.9,498.7 680.3,511.5 680.8,521.1 681.2,524.2 681.2,524.2 681.7,519.8 682.1,509.5 682.6,496.2 683,483.9 683.5,475.9 683.8,474.3 683.9,475.2 684.4,488.2 684.8,510.7 685.3,531.9 685.7,541.7 685.8,541.8 686.2,537.4 686.6,523.6 687.1,505 687.5,487.8 688,477.8 688.2,476.7 688.4,477.8 688.9,484.6 689.3,496.2 689.8,509.7 690.2,521.7 690.7,529.2 691,530.7 691.1,530.3 691.6,524.1 692,512.4 692.5,499.3 692.9,489.1 693.4,485.3 693.4,485.3 693.8,489.4 694.3,500 694.7,512.4 695.2,521.2 695.5,523.1 695.6,522.8 696.1,519.2 696.5,512 697,502.8 697.4,493.5 697.9,486.3 698.3,482.7 698.5,482.4 698.8,483.1 699.2,486.8 699.7,492.9 700.1,500.6 700.6,508.5 701,515.5 701.5,520.3 701.9,522.3 702,522.3 702.4,522 702.8,521.2 703.3,520.1 703.7,519 704.2,518.3 704.5,518.2 704.6,517.2 705.1,503.8 705.5,483.8 706,471.9 706.1,471.5 706.4,473.9 706.9,483.4 707.3,498.6 707.8,516.7 708.2,534.3 708.7,548.5 709.1,556.5 709.4,557.7 709.6,554.9 710,530.3 710.5,490.3 710.9,452.4 711.4,433 711.5,432.3 711.8,440.1 712.3,470.3 712.7,513.3 713.2,554.6 713.6,580.4 713.9,584.4 714.1,582.6 714.5,566 715,535.9 715.4,499.9 715.9,466.9 716.3,445.1 716.7,439.6 716.8,440.2 717.2,456.5 717.7,490 718.1,529.5 718.6,561.5 719,575.5 719.1,575.6 719.5,570.7 719.9,554.4 720.4,530.3 720.8,503.6 721.3,480.1 721.7,465 722.1,461.2 722.2,461.8 722.6,477.8 723.1,507.9 723.5,536.1 724,547.5 724,547.5 724.4,543 724.9,530.7 725.3,513.7 725.8,496.2 726.2,482.5 726.7,476.1 726.8,475.9 727.1,483.3 727.6,508.7 728,534.1 728.4,541.5 728.5,541.3 728.9,535.3 729.4,522.7 729.8,507.1 730.3,493 730.7,484.5 731,483.2 731.2,484.3 731.6,493.8 732.1,508.8 732.5,522.2 733,527.5 733,527.5 733.4,524.3 733.9,515.7 734.3,503.9 734.8,492.1 735.2,483.5 735.7,480.3 735.7,480.3 736.1,488.4 736.6,508 737,527.7 737.5,535.8 737.5,535.8 737.9,532 738.4,521.7 738.8,507.3 739.3,492.5 739.7,481 740.2,475.6 740.3,475.4 740.6,479.6 741.1,495.3 741.5,516.1 742,532.7 742.4,538.2 742.4,538.1 742.9,532.5 743.3,519 743.8,501 744.2,482.9 744.7,469.4 745.1,463.8 745.2,463.7 745.6,473.6 746,502.8 746.5,536 746.9,555.8 747.1,557.2 747.4,555 747.8,544.2 748.3,526.7 748.7,506.5 749.2,488.5 749.6,476.8 750,473.8 750.1,474.1 750.5,481.3 751,496.4 751.4,514.7 751.9,530.4 752.3,538.7 752.5,539.3 752.8,536.8 753.2,524.9 753.7,507 754.1,489.1 754.6,477.2 754.9,474.7 755,475.1 755.5,480.5 755.9,491.4 756.4,505.2 756.8,519.1 757.3,530 757.7,535.4 757.9,535.8 758.2,533.8 758.6,524.4 759.1,510.9 759.5,498.6 760,492.4 760.1,492.2 760.4,493.4 760.9,498.1 761.3,504.5 761.8,510 762.2,512.5 762.3,512.5 762.7,512 763.1,510.3 763.6,507.6 764,504.6 764.5,501.8 764.9,499.8 765.4,498.8 765.5,498.8 765.8,499.5 766.3,502.1 766.7,506.1 767.2,510.6 767.6,514.5 768.1,516.9 768.4,517.4 768.5,517.3 769,515.8 769.4,512.8 769.9,508.7 770.3,504.1 770.8,499.7 771.2,496.2 771.7,494.2 772,493.8 772.1,494.2 772.6,499.5 773,509.6 773.5,521.3 773.9,531 774.4,535.6 774.5,535.8 774.8,533.8 775.3,525.9 775.7,513.7 776.2,500.2 776.6,488.4 777.1,481.1 777.4,479.6 777.5,479.8 778,483.1 778.4,489.7 778.9,498.3 779.3,507.1 779.8,514.2 780.2,518.4 780.5,519 780.7,518.9 781.1,517.9 781.6,515.8 782,512.8 782.5,509.2 782.9,505.1 783.4,500.9 783.8,496.8 784.3,493 784.7,490 785.2,487.8 785.6,486.7 785.9,486.5 786.1,487.2 786.5,493.3 787,504.4 787.4,517.3 787.9,528.7 788.3,535.5 788.6,536.6 788.8,535.5 789.2,525.6 789.7,507.9 790.1,487.7 790.6,470.7 791,461.8 791.2,461.2 791.5,464.9 791.9,482.4 792.4,508.4 792.8,533.3 793.3,548 793.5,549.6 793.7,548.5 794.2,541.1 794.6,528.4 795.1,513.4 795.5,499.6 796,490.2 796.4,487.3 796.4,487.3 796.9,488.1 797.3,490.2 797.8,493.3 798.2,497.4 798.7,502 799.1,506.8 799.6,511.5 800,515.8 800.5,519.3 800.9,521.7 801.4,523 801.6,523.1 801.8,522.2 802.3,516.4 802.7,506.9 803.2,496.7 803.6,489 804.1,486.1 804.1,486.1 804.5,489.2 805,497.3 805.4,507.7 805.9,517 806.3,522 806.5,522.3 806.8,521.8 807.2,519.4 807.7,515.3 808.1,510 808.6,504.2 809,498.9 809.5,494.6 809.9,491.9 810.3,491.3 810.4,491.5 810.8,496.1 811.3,505.2 811.7,514.8 812.2,520.7 812.4,521.4 812.6,520.9 813.1,517.9 813.5,513 814,507.4 814.4,503 814.9,500.9 815,500.8 815.3,501.6 815.8,504.6 816.2,508.4 816.7,511.2 817,511.8 817.1,511.6 817.6,508.2 818,501.8 818.5,494.5 818.9,488.3 819.4,485.4 819.5,485.3 819.8,488.2 820.3,499 820.7,513.8 821.2,526.6 821.6,532.2 821.7,532.3 822.1,529.3 822.5,520 823,507.3 823.4,495.6 823.9,488.9 824.1,488.1 824.3,489.1 824.8,494.9 825.2,503.1 825.7,509.4 826,510.8 826.1,510.6 826.6,508 827,504.4 827.5,502.8 827.5,502.8 827.9,504.1 828.4,507.4 828.8,511.6 829.3,515.1 829.7,516.6 829.8,516.6 830.2,515 830.6,509.8 831.1,502.3 831.5,494.4 832,488 832.4,484.7 832.6,484.5 832.9,485.6 833.3,491.3 833.8,500 834.2,509.4 834.7,516.7 835.1,519.8 835.2,519.8 835.6,518.4 836,513.8 836.5,507 836.9,499.3 837.4,492.2 837.8,487.3 838.3,485.6 838.3,485.6 838.7,491.6 839.2,506.7 839.6,523.7 840.1,534.4 840.3,535.6 840.5,534.1 841,524.2 841.4,508.4 841.9,492 842.3,480.5 842.7,477.5 842.8,477.8 843.2,485.6 843.7,501.4 844.1,519.4 844.6,533 845,537.4 845,537.4 845.5,533.3 845.9,523.3 846.4,509.4 846.8,494.6 847.3,481.7 847.7,473.6 848.1,471.5 848.2,471.9 848.6,483.4 849.1,504.8 849.5,525 850,533.1 850,533.1 850.4,530.4 850.9,523 851.3,512.4 851.8,501 852.2,491.3 852.7,485.3 853,484.1 853.1,484.6 853.6,491 854,502.6 854.5,514.8 854.9,522.6 855.2,523.9 855.4,523.5 855.8,520.1 856.3,513.9 856.7,506.3 857.2,499.1 857.6,494 858.1,492.1 858.1,492.1 858.5,495.3 859,503.3 859.4,512.8 859.9,519.6 860.2,521 860.3,520.9 860.8,519.6 861.2,516.9 861.7,513.1 862.1,508.6 862.6,504 863,499.9 863.5,496.6 863.9,494.7 864.3,494.2 864.4,494.3 864.8,497.4 865.3,503.8 865.7,511.4 866.2,517.5 866.6,520.2 866.7,520.2 867.1,518.8 867.5,514.4 868,507.8 868.4,500.7 868.9,494.7 869.3,491.1 869.6,490.6 869.8,491.8 870.2,502.1 870.7,517.3 871.1,528.5 871.4,530.4 871.6,530 872,526 872.5,518.8 872.9,510 873.4,501.6 873.8,495.6 874.3,493.5 874.3,493.5 874.7,495.4 875.2,500.6 875.6,508 876.1,515.8 876.5,522.1 877,525.6 877.2,526 877.4,525.2 877.9,520 878.3,511.5 878.8,502 879.2,494.4 879.7,490.7 879.8,490.6 880.1,491.7 880.6,496 881,502.5 881.5,509.6 881.9,515.6 882.4,518.8 882.6,519.2 882.8,518.7 883.3,515.2 883.7,509.5 884.2,502.9 884.6,497.3 885.1,494.2 885.3,493.9 885.5,494.4 886,497.3 886.4,502.5 886.9,508.9 887.3,515.1 887.8,519.8 888.2,522.2 888.4,522.4 888.7,521 889.1,514.4 889.6,504.8 890,496.1 890.5,491.8 890.6,491.6 890.9,492.5 891.4,496.4 891.8,502.6 892.3,510.3 892.7,518.2 893.2,525.2 893.6,530.2 894.1,532.4 894.2,532.5 894.5,528.4 895,512.9 895.4,491.9 895.9,473.8 896.3,465.7 896.4,465.6 896.8,471.9 897.2,491.8 897.7,518.8 898.1,543.7 898.6,558.1 898.8,559.7 899,557 899.5,539.8 899.9,512.1 900.4,483.3 900.8,463.1 901.2,457.8 901.3,458.3 901.7,472.8 902.2,501.1 902.6,530.9 903.1,549.2 903.3,551.3 903.5,549.1 904,534.9 904.4,511.8 904.9,486.9 905.3,468 905.8,461 905.8,461 906.2,470.1 906.7,493.4 907.1,520.8 907.6,540.3 907.9,544.4 908,543.9 908.5,536.2 908.9,521.3 909.4,503.3 909.8,486.8 910.3,476.4 910.6,474.3 910.7,475.1 911.2,486.1 911.6,505.7 912.1,525.4 912.5,536.4 912.7,537.2 913,535.3 913.4,525.9 913.9,511.5 914.3,496.6 914.8,485.8 915.2,482.4 915.2,482.5 915.7,491.5 916.1,509.5 916.6,524.8 916.9,528.2 917,527.7 917.5,521.4 917.9,509.6 918.4,496.7 918.8,487.5 919.2,485.1 919.3,485.3 919.7,489.8 920.2,499.5 920.6,511.9 921.1,524 921.5,532.7 922,535.9 922,535.9 922.4,529.6 922.9,513.5 923.3,494.6 923.8,481.2 924.1,478.3 924.2,478.7 924.7,485.1 925.1,496.9 925.6,510.3 926,520.7 926.5,524.6 926.5,524.6 926.9,520.2 927.4,509 927.8,496.5 928.3,488.6 928.5,487.7 928.7,488.9 929.2,496.6 929.6,508.6 930.1,520.7 930.5,528.4 930.8,529.6 931,528.8 931.4,521.6 931.9,509.6 932.3,497.6 932.8,490.4 933,489.6 933.2,490.4 933.7,495.4 934.1,503.6 934.6,512 935,518 935.4,519.5 935.5,519.4 935.9,516.7 936.4,511 936.8,504 937.3,497.6 937.7,493.8 938,493.2 938.2,493.5 938.6,496.3 939.1,501.2 939.5,506.7 940,511.1 940.4,513 940.5,513 940.9,512.7 941.3,511.9 941.8,510.4 942.2,508.6 942.7,506.6 943.1,504.7 943.6,502.9 944,501.6 944.5,500.8 944.8,500.7 944.9,500.9 945.4,503.8 945.8,509.3 946.3,515.7 946.7,521 947.2,523.5 947.3,523.6 947.6,521.4 948.1,512.9 948.5,501 949,490.1 949.4,484.2 949.6,483.8 949.9,485.4 950.3,493.4 950.8,505.3 951.2,517.2 951.7,525.2 952,526.8 952.1,526.6 952.6,523.6 953,517.5 953.5,509.6 953.9,501.3 954.4,494.3 954.8,489.8 955.2,488.7 955.3,488.8 955.7,491 956.2,495.9 956.6,502.4 957.1,509.2 957.5,515 958,518.5 958.3,519.2 958.4,519.1 958.9,517.9 959.3,515.2 959.8,511.6 960.2,507.5 960.7,503.3 961.1,499.7 961.6,497 962,495.8 962.2,495.7 962.5,496.3 962.9,499.3 963.4,504.4 963.8,510.5 964.3,516.6 964.7,521.7 965.2,524.7 965.5,525.3 965.6,524.9 966.1,519.4 966.5,509.2 967,497.6 967.4,488.7 967.9,485.3 967.9,485.3 968.3,489.1 968.8,499.5 969.2,513.4 969.7,526.9 970.1,536 970.5,538.3 970.6,538 971,530.9 971.5,516 971.9,498 972.4,482.5 972.8,474.3 973,473.7 973.3,475.8 973.7,486 974.2,501.6 974.6,517.9 975.1,529.6 975.5,533.3 975.5,533.2 976,527.3 976.4,514.3 976.9,499.9 977.3,490.2 977.6,488.7 977.8,489.2 978.2,494 978.7,502.4 979.1,512 979.6,520.1 980,524.3 980.2,524.6 980.5,523.5 980.9,518 981.4,509.5 981.8,500.4 982.3,493.3 982.7,490.3 982.8,490.3 983.2,492.3 983.6,498.6 984.1,507.4 984.5,515.8 985,521.3 985.3,522.4 985.4,522.1 985.9,517.9 986.3,510.3 986.8,502.4 987.2,497.2 987.5,496.4 987.7,496.6 988.1,498.5 988.6,502.2 989,506.9 989.5,511.7 989.9,515.9 990.4,518.7 990.8,519.5 990.8,519.5 991.3,516.5 991.7,509.8 992.2,502.1 992.6,496.4 993,494.9 993.1,495 993.5,499 994,506.5 994.4,514 994.9,518 995,518.1 995.3,516.3 995.8,509.9 996.2,502.1 996.7,497 996.9,496.4 997.1,496.8 997.6,499.7 998,504.4 998.5,509.6 998.9,513.8 999.4,515.8 999.5,515.9 999.8,514.2 1000.3,508 1000.7,501.4 1001.2,498.6 1001.2,498.6 1001.6,499.8 1002.1,503 1002.5,507 1003,510.3 1003.4,511.8 1003.5,511.8 1003.9,511.1 1004.3,509 1004.8,505.9 1005.2,502.7 1005.7,500 1006.1,498.7 1006.3,498.6 1006.6,500.7 1007,509.4 1007.5,517.1 1007.7,518.1 1007.9,517.2 1008.4,511.5 1008.8,502.6 1009.3,494.2 1009.7,489.5 1009.9,489.2 1010.2,491.1 1010.6,500.3 1011.1,513.2 1011.5,524.2 1012,528.5 1012,528.5 1012.4,524.7 1012.9,514.4 1013.3,500.8 1013.8,488.2 1014.2,480.5 1014.5,479.3 1014.7,480.3 1015.1,489.1 1015.6,504.1 1016,519.7 1016.5,530.3 1016.8,532.5 1016.9,532 1017.4,525.4 1017.8,512.9 1018.3,498.3 1018.7,486.2 1019.2,480.4 1019.3,480.2 1019.6,483.3 1020.1,495.4 1020.5,512.7 1021,529.3 1021.4,539.6 1021.7,541.2 1021.9,539.9 1022.3,528.5 1022.8,509.4 1023.2,490.3 1023.7,478.9 1023.9,477.6 1024.1,478.7 1024.6,485.9 1025,497.8 1025.5,510.9 1025.9,521.6 1026.4,526.6 1026.5,526.8 1026.8,525.1 1027.3,518.4 1027.7,508.4 1028.2,498.2 1028.6,490.5 1029.1,487.7 1029.1,487.7 1029.5,489.7 1030,495 1030.4,501.9 1030.9,508.4 1031.3,512.4 1031.6,513 1031.8,512.6 1032.2,509.4 1032.7,504.1 1033.1,499.1 1033.6,496.5 1033.7,496.4 1034,497 1034.5,499.6 1034.9,503.5 1035.4,507.9 1035.8,511.7 1036.3,514 1036.6,514.5 1036.7,514.4 1037.2,513.2 1037.6,510.8 1038.1,507.3 1038.5,503.3 1039,499.2 1039.4,495.4 1039.9,492.5 1040.3,490.7 1040.7,490.3 1040.8,490.4 1041.2,493 1041.7,498.8 1042.1,506.6 1042.6,514.7 1043,521.5 1043.5,525.7 1043.8,526.5 1043.9,525.5 1044.4,513 1044.8,495.4 1045.3,487.3 1045.3,487.3 1045.7,489.1 1046.2,494.1 1046.6,501 1047.1,508.4 1047.5,514.4 1048,517.7 1048.2,518.1 1048.4,517.7 1048.9,515.4 1049.3,511.5 1049.8,506.8 1050.2,502.4 1050.7,499.5 1051.1,498.6 1051.1,498.6 1051.6,500.8 1052,505.7 1052.5,511 1052.9,514.6 1053.2,515.2 1053.4,514.4 1053.8,507.5 1054.3,498.9 1054.7,495.7 1054.7,495.7 1055.2,498.9 1055.6,505.9 1056.1,514.1 1056.5,520.1 1056.9,521.7 1057,521.5 1057.4,516.5 1057.9,506.7 1058.3,496.3 1058.8,489.9 1059,489.2 1059.2,490.3 1059.7,497.5 1060.1,508.5 1060.6,519.1 1061,524.9 1061.2,525.3 1061.5,523.4 1061.9,514.4 1062.4,501.4 1062.8,489.5 1063.3,483.6 1063.4,483.4 1063.7,486.4 1064.2,497.7 1064.6,512.6 1065.1,524.6 1065.5,528.5 1065.5,528.4 1066,523.1 1066.4,511 1066.9,497.1 1067.3,486.8 1067.7,484.1 1067.8,484.3 1068.2,490.9 1068.7,504 1069.1,518.5 1069.6,528.5 1069.9,530.6 1070,530.3 1070.5,526.2 1070.9,518.2 1071.4,508.4 1071.8,499.6 1072.3,493.9 1072.6,492.8 1072.7,493.1 1073.2,497 1073.6,504.3 1074.1,512.3 1074.5,518 1074.9,519.5 1075,519.4 1075.4,516.6 1075.9,510.9 1076.3,504.3 1076.8,499.4 1077.2,497.8 1077.2,497.8 1077.7,499.4 1078.1,503.1 1078.6,508.1 1079,513.2 1079.5,517.3 1079.9,519.4 1080.1,519.5 1080.4,519 1080.8,516.3 1081.3,512.1 1081.7,507.2 1082.2,502.9 1082.6,500 1083,499.3 1083.1,499.4 1083.5,500.9 1084,504.3 1084.4,508.7 1084.9,513.1 1085.3,516.5 1085.8,518 1085.9,518.1 1086.2,516.9 1086.7,512.2 1087.1,505.8 1087.6,500.3 1088,497.8 1088.1,497.8 1088.5,498.8 1088.9,502.2 1089.4,507.2 1089.8,512.6 1090.3,517.1 1090.7,519.8 1091,520.2 1091.2,519.4 1091.6,513 1092.1,503.4 1092.5,496.4 1092.8,495.2 1093,496 1093.4,502.9 1093.9,513 1094.3,520.5 1094.6,521.7 1094.8,521.2 1095.2,516.9 1095.7,509.3 1096.1,500.6 1096.6,493.3 1097,489.5 1097.2,489.2 1097.5,490.6 1097.9,497.5 1098.4,507.8 1098.8,518.2 1099.3,525.1 1099.6,526.5 1099.7,525.4 1100.2,511.4 1100.6,491.7 1101.1,482.7 1101.1,482.7 1101.5,484.9 1102,491.1 1102.4,499.8 1102.9,508.9 1103.3,516.4 1103.8,520.6 1104,521 1104.2,520.5 1104.7,517.3 1105.1,511.9 1105.6,505.4 1106,499.5 1106.5,495.4 1106.9,494.2 1106.9,494.2 1107.4,496.9 1107.8,502.8 1108.3,509.4 1108.7,513.8 1109,514.5 1109.2,513.5 1109.6,505.3 1110.1,495.1 1110.5,491.3 1110.5,491.3 1111,493 1111.4,497.1 1111.9,502.6 1112.3,508.3 1112.8,512.8 1113.2,515 1113.4,515.2 1113.7,514.3 1114.1,510.1 1114.6,504.1 1115,499.1 1115.5,497.1 1115.5,497.1 1115.9,498.8 1116.4,503.1 1116.8,508.3 1117.3,512.4 1117.7,513.7 1117.7,513.7 1118.2,511.8 1118.6,507.4 1119.1,502.4 1119.5,498.8 1119.9,497.8 1120,497.9 1120.4,501.9 1120.9,509.4 1121.3,516.4 1121.8,519.2 1121.8,519.2 1122.2,517.2 1122.7,511.7 1123.1,504.7 1123.6,498.5 1124,495.1 1124.2,494.9 1124.5,495.7 1124.9,499.2 1125.4,504.4 1125.8,509.2 1126.3,511.5 1126.4,511.6 1126.7,509.8 1127.2,504.1 1127.6,499.6 1127.8,499.3 1128.1,499.5 1128.5,500.4 1129,502 1129.4,504.2 1129.9,506.7 1130.3,509.2 1130.8,511.5 1131.2,513.4 1131.7,514.7 1132.1,515.2 1132.2,515.2 1132.6,512.6 1133,506.1 1133.5,501.7 1133.6,501.5 1133.9,501.7 1134.4,502.7 1134.8,504.2 1135.3,506.1 1135.7,508.1 1136.2,509.8 1136.6,511 1137.1,511.6 1137.2,511.6 1137.5,510 1138,504.8 1138.4,500.1 1138.7,499.3 1138.9,499.7 1139.3,502.9 1139.8,508.4 1140.2,514.4 1140.7,518.8 1141.1,520.2 1141.1,520.2 1141.6,515.5 1142,505.8 1142.5,496 1142.9,491.3 1143,491.3 1143.4,492.5 1143.8,496.4 1144.3,502.3 1144.7,509.3 1145.2,515.9 1145.6,521.1 1146.1,523.8 1146.3,524.1 1146.5,523.3 1147,518.4 1147.4,510.4 1147.9,501.8 1148.3,495.2 1148.8,492.8 1148.8,492.8 1149.2,494.7 1149.7,499.9 1150.1,507.2 1150.6,514.9 1151,521.2 1151.5,524.6 1151.7,525 1151.9,524.1 1152.4,518.8 1152.8,510.4 1153.3,502.5 1153.7,498.1 1153.9,497.8 1154.2,498.8 1154.6,503.2 1155.1,508 1155.5,509.8 1155.5,509.8 1156,505.9 1156.4,500.4 1156.7,499.3 1156.9,499.5 1157.3,501.3 1157.8,504.5 1158.2,508.5 1158.7,512.3 1159.1,514.9 1159.6,515.9 1159.6,515.9 1160,515.1 1160.5,512.7 1160.9,509.5 1161.4,506 1161.8,503.2 1162.3,501.7 1162.5,501.5 1162.7,501.8 1163.2,503.8 1163.6,506.9 1164.1,509.9 1164.5,511.5 1164.7,511.6 1165,510.5 1165.4,505.5 1165.9,498.9 1166.3,494.3 1166.6,493.5 1166.8,493.9 1167.2,497.6 1167.7,503.9 1168.1,510.7 1168.6,515.8 1169,517.4 1169,517.4 1169.5,516.9 1169.9,515.7 1170.4,513.9 1170.8,511.5 1171.3,508.8 1171.7,506 1172.2,503.3 1172.6,500.9 1173.1,499 1173.5,497.7 1174,497.1 1174.1,497.1 1174.4,497.9 1174.9,501.1 1175.3,505.4 1175.8,509.1 1176.2,510.8 1176.3,510.8 1176.7,509.2 1177.1,504.3 1177.6,498.2 1178,493.5 1178.4,492.3 1178.5,492.5 1178.9,497.5 1179.4,507.4 1179.8,518.3 1180.3,525.9 1180.6,527.5 1180.7,527.1 1181.2,521.9 1181.6,512.4 1182.1,502.4 1182.5,495.9 1182.8,494.9 1183,495.2 1183.4,497.7 1183.9,502.2 1184.3,506.9 1184.8,510.5 1185.2,511.6 1185.2,511.6 1185.7,510.6 1186.1,508.2 1186.6,505.1 1187,502.2 1187.5,500.4 1187.8,500 1187.9,500.4 1188.4,506 1188.8,513.8 1189.3,517.4 1189.3,517.4 1189.7,516.1 1190.2,512.5 1190.6,507.4 1191.1,502 1191.5,497.6 1192,495.2 1192.2,494.9 1192.4,495.5 1192.9,499.1 1193.3,504.5 1193.8,509.4 1194.2,511.6 1194.3,511.6 1194.7,511 1195.1,509.2 1195.6,506.4 1196,503.5 1196.5,501 1196.9,499.5 1197.2,499.3 1197.4,499.6 1197.8,502.6 1198.3,507 1198.7,510.3 1199,510.8 1199.2,510.5 1199.6,507.9 1200.1,504 1200.5,501.2 1200.8,500.7 1201,501.6 1201.4,508.7 1201.9,517.6 1202.3,521 1202.3,521 1202.8,519.3 1203.2,515.4 1203.7,510 1204.1,504.5 1204.6,500.2 1205,498 1205.2,497.8 1205.5,498.9 1205.9,503.8 1206.4,508.7 1206.7,509.8 1206.8,509.4 1207.3,503.7 1207.7,496.5 1208.1,494.2 1208.2,494.4 1208.6,499.5 1209.1,509.6 1209.5,520.2 1210,526.8 1210.2,527.5 1210.4,526.6 1210.9,520.6 1211.3,510.4 1211.8,498.3 1212.2,487.2 1212.7,479.6 1213.1,477.3 1213.1,477.4 1213.6,483.4 1214,497.1 1214.5,512.8 1214.9,524.4 1215.3,527.5 1215.4,527.4 1215.8,523.4 1216.3,515.3 1216.7,505.4 1217.2,496.9 1217.6,492.4 1217.8,492.1 1218.1,493 1218.5,497.4 1219,504.1 1219.4,511.4 1219.9,517.1 1220.3,519.5 1220.4,519.5 1220.8,515.3 1221.2,504.6 1221.7,497.4 1221.8,497.1 1222.1,497.8 1222.6,500.4 1223,504.2 1223.5,508.2 1223.9,511.2 1224.4,512.3 1224.4,512.3 1224.8,510.9 1225.3,507.3 1225.7,502.5 1226.2,498.1 1226.6,495.3 1226.9,494.9 1227.1,495.3 1227.5,498.5 1228,503.9 1228.4,508.9 1228.9,511.5 1229,511.6 1229.3,511 1229.8,508.9 1230.2,505.9 1230.7,503.3 1231.1,502.2 1231.2,502.2 1231.6,502.9 1232,505.3 1232.5,508.9 1232.9,512.7 1233.4,515.9 1233.8,517.8 1234.1,518.1 1234.3,517.6 1234.7,513.6 1235.2,506.9 1235.6,500.2 1236.1,496.2 1236.3,495.7 1236.5,496.2 1237,499.2 1237.4,503.8 1237.9,507.9 1238.3,509.8 1238.4,509.8 1238.8,508.5 1239.2,504.8 1239.7,500.5 1240.1,498 1240.3,497.8 1240.6,499.4 1241,506.4 1241.5,514.6 1241.9,518.8 1242,518.8 1242.4,517.5 1242.8,513.2 1243.3,507 1243.7,500.2 1244.2,494.5 1244.6,491.1 1244.9,490.6 1245.1,491.2 1245.5,496.3 1246,504.7 1246.4,513.1 1246.9,518.2 1247.1,518.8 1247.3,518.4 1247.8,515.8 1248.2,511.4 1248.7,506.2 1249.1,501.4 1249.6,498.1 1250,497.1 1250,497.1 1250.5,499.8 1250.9,505.9 1251.4,513 1251.8,518.1 1252.2,519.5 1252.3,519.5 1252.7,518.5 1253.2,516.4 1253.6,513.2 1254.1,509.4 1254.5,505.4 1255,501.6 1255.4,498.3 1255.9,496.1 1256.3,495 1256.5,494.9 1256.8,495.9 1257.2,501.1 1257.7,509.3 1258.1,518.8 1258.6,527.4 1259,532.9 1259.4,534.3 1259.5,534.1 1259.9,527.9 1260.4,515.3 1260.8,500.3 1261.3,488.2 1261.7,483 1261.8,482.9 1262.2,484.8 1262.6,490.8 1263.1,499.5 1263.5,508.4 1264,515.2 1264.4,518.1 1264.5,518.1 1264.9,514.8 1265.3,506.5 1265.8,500.9 1265.9,500.7 1266.2,502.1 1266.7,507 1267.1,513 1267.6,516.9 1267.8,517.4 1268,516.8 1268.5,513.2 1268.9,507.3 1269.4,501.1 1269.8,496.8 1270.2,495.7 1270.3,495.8 1270.7,498.7 1271.2,504.4 1271.6,510.6 1272.1,515 1272.4,515.9 1272.5,515.7 1273,512.5 1273.4,506.8 1273.9,500.9 1274.3,497 1274.6,496.4 1274.8,496.9 1275.2,501.6 1275.7,509.2 1276.1,516.4 1276.6,520.1 1276.7,520.2 1277,518.4 1277.5,511.6 1277.9,502.4 1278.4,494.5 1278.8,490.9 1278.9,490.9 1279.3,492.6 1279.7,497.9 1280.2,504.6 1280.6,510.2 1281.1,512.3 1281.1,512.3 1281.5,508.9 1282,501.9 1282.4,497.8 1282.5,497.8 1282.9,500.2 1283.3,507.1 1283.8,514.5 1284.2,518.1 1284.3,518.1 1284.7,515.9 1285.1,509 1285.6,500.5 1286,494 1286.4,492.3 1286.5,492.5 1286.9,497.4 1287.4,505.6 1287.8,511.2 1288,511.6 1288.3,510.6 1288.7,506.3 1289.2,501.2 1289.6,498.6 1289.7,498.6 1290.1,501.9 1290.5,511.3 1291,521.5 1291.4,526.4 1291.5,526.5 1291.9,516 1292.3,495 1292.6,490.6 1292.8,491.5 1293.2,498.7 1293.7,506.8 1294,508.8 1294.1,508.6 1294.6,505.5 1295,501.3 1295.5,499.3 1295.5,499.3 1295.9,502.4 1296.4,509.7 1296.8,517.1 1297.3,520.2 1297.3,520.2" fill="none" stroke="#000" stroke-width="1.05" stroke-linejoin="round"/>
<path d="M325.3,510.1 325.8,510 325.9,509.9 326.2,509.6 326.6,508.8 327.1,507.7 327.5,506.3 328,504.9 328.4,503.6 328.9,502.4 329.3,501.4 329.8,500.9 330.2,500.7 330.6,501 330.7,501.2 331.1,502.5 331.6,504.4 332,506.6 332.5,508.9 332.9,511 333.4,512.6 333.7,513.3 333.8,513.5 334.3,513.5 334.7,512.9 335.2,511.6 335.6,509.9 336.1,507.9 336.5,505.7 337,503.8 337.4,502.2 337.9,501.1 338.3,500.7 338.8,500.9 339.2,501.4 339.2,501.5 339.7,502.4 340.1,503.7 340.6,505.2 341,506.8 341.5,508.3 341.6,508.6 341.9,509.7 342.4,510.8 342.8,511.6 343,511.8 343.3,512.1 343.7,512 344.2,511.2 344.3,511 344.6,509.8 345.1,508.1 345.5,506.1 346,504.4 346.4,503.1 346.7,502.6 346.9,502.4 347.3,502.3 347.8,502.6 348.2,503.1 348.7,503.8 349.1,504.6 349.6,505.4 350,506.2 350.5,506.8 350.9,507.2 351,507.2 351.4,507.3 351.8,507 352.3,506.2 352.7,505.4 353.2,505 353.6,505.3 353.7,505.3 354.1,506.3 354.5,508 355,510 355.4,512.2 355.9,514 356.3,515.4 356.8,516 357.2,515.8 357.2,515.7 357.7,514.6 358.1,512.8 358.6,510.5 359,508.1 359.5,505.7 359.9,503.8 360.1,503.4 360.4,502.7 360.8,502.3 361.3,502.4 361.7,502.5 362.2,502.7 362.2,502.7 362.6,503 363,503.3 363.1,503.4 363.5,503.7 364,504.1 364.4,504.5 364.7,504.7 364.9,504.9 365.3,505.2 365.8,505.5 366.2,505.7 366.7,505.8 366.7,505.8 367.1,505.8 367.4,505.9 367.6,506.1 368,506.7 368.5,507.6 368.9,508.7 369,508.8 369.4,509.8 369.8,511 370.3,512 370.7,512.8 371,513.2 371.2,513.4 371.6,513.6 372.1,513.5 372.5,513 373,512.3 373.4,511.3 373.9,510 374.3,508.4 374.8,506.7 375.2,504.9 375.7,503 376.1,501 376.6,499.1 377,497.2 377.5,495.4 377.9,493.8 378.4,492.3 378.8,491.2 379.3,490.2 379.7,489.6 380.2,489.3 380.4,489.3 380.6,489.5 381.1,490.8 381.5,493.3 382,496.7 382.4,500.8 382.9,505.2 383.3,509.8 383.8,514 384.2,517.6 384.7,520.2 384.7,520.2 385.1,521.8 385.6,522.2 386,521.5 386.5,520.1 386.9,517.8 387.4,514.9 387.8,511.5 388.3,507.7 388.7,503.9 389.2,500 389.6,496.5 390.1,493.4 390.5,490.9 391,489.2 391.4,488.2 391.9,488.3 392,488.6 392.3,490.5 392.8,494.5 393.2,499.9 393.7,505.8 393.7,505.8 394.1,511.3 394.6,515.6 395,517.8 395,517.9 395.5,518.2 395.9,517.7 396.4,516.9 396.4,516.9 396.8,516.1 397.3,515.8 397.6,515.9 397.7,515.9 398.2,516.3 398.6,516.6 399.1,516.8 399.5,516.5 400,515.2 400,515.2 400.4,513 400.9,510.1 401.3,506.7 401.8,503 402.2,499.4 402.7,496.1 403.1,493.3 403.6,491.3 404,490.3 404.1,490.2 404.5,490.3 404.9,492.1 405.4,495.5 405.8,500.3 406.3,505.8 406.7,511.6 407.2,516.9 407.6,521.3 408.1,524.2 408.5,525.4 408.6,525.4 409,524.9 409.4,523.2 409.9,520.4 410.3,516.7 410.8,512.3 411.2,507.5 411.7,502.6 412.1,498 412.6,494 413,490.7 413.5,488.5 413.7,487.9 413.9,487.5 414.4,487.7 414.8,489.1 415.3,491.6 415.7,495 416.2,499.1 416.6,503.7 417.1,508.4 417.5,513 418,517 418.4,520.4 418.9,522.7 419.3,524 419.6,524.2 419.8,524.1 420.2,522.8 420.7,520.2 421.1,516.5 421.6,512 422,507.1 422.5,502 422.9,497.3 423.4,493.2 423.8,490.1 424.3,488.3 424.3,488.3 424.7,487.7 425.2,489 425.6,492.2 426.1,497.1 426.5,503.1 427,509.5 427.4,515.7 427.9,521 428.3,524.8 428.6,526.2 428.8,526.8 429.2,526.8 429.7,525.2 430.1,522.3 430.6,518.3 431,513.3 431.5,507.7 431.9,501.9 432.4,496.2 432.8,491 433.3,486.6 433.7,483.3 434.2,481.3 434.6,480.7 435.1,482.6 435.3,484.5 435.5,487.5 436,494.8 436.4,503.7 436.9,513.1 437.3,522.1 437.8,529.6 438.2,534.7 438.7,537 438.8,537.1 439.1,536.3 439.6,533.2 440,527.8 440.5,520.8 440.9,512.7 441.4,504.2 441.8,496.2 442.3,489.3 442.7,484.2 442.9,482.9 443.2,481.3 443.6,480.8 444.1,482 444.5,484.6 445,488.4 445.4,493.3 445.9,498.8 446.3,504.8 446.8,510.9 447.2,516.7 447.7,521.9 448.1,526.3 448.6,529.4 449,531.3 449.2,531.6 449.5,531.6 449.9,528.7 450.4,522.3 450.8,513.3 451.3,503.1 451.7,493.3 452.2,485.3 452.6,480.3 453,479.1 453.1,479.2 453.5,481.9 454,487.9 454.4,496.5 454.9,506.3 455.3,515.9 455.8,524 456.2,529.3 456.7,531.2 456.7,531.2 457.1,530.5 457.6,528.6 458,525.4 458.5,521.2 458.9,516.2 459.4,510.5 459.8,504.5 460.3,498.4 460.7,492.6 461.2,487.2 461.6,482.6 462.1,479 462.5,476.5 463,475.2 463.2,475.1 463.4,475.8 463.9,480.3 464.3,488.5 464.8,499.4 465.2,511.8 465.7,524.3 466.1,535.2 466.6,543.4 467,547.9 467.3,548.6 467.5,548.1 467.9,543.7 468.4,535 468.8,523 469.3,508.8 469.7,494 470.2,480 470.6,468.3 471.1,460.1 471.5,456.2 471.7,455.9 472,457.7 472.4,466.6 472.9,481.9 473.3,501.4 473.8,522.2 474.2,541.3 474.7,556 475.1,564.2 475.4,565.4 475.6,564.8 476,558.9 476.5,547.4 476.9,531.5 477.4,512.8 477.8,493.2 478.3,474.7 478.7,459.2 479.2,448.3 479.6,443.2 479.8,442.8 480.1,444.6 480.5,453.5 481,469 481.4,489.3 481.9,512 482.3,534.3 482.8,553.7 483.2,567.9 483.7,575.2 483.9,576 484.1,574.4 484.6,563.9 485,545 485.5,520.4 485.9,493.7 486.4,468.7 486.8,449 487.3,437.5 487.6,435.2 487.7,435.8 488.2,444.7 488.6,462.9 489.1,487.7 489.5,515.2 490,541.4 490.4,562.2 490.9,574.4 491.2,576.8 491.3,576.3 491.8,569.6 492.2,555.7 492.7,536.1 493.1,513.1 493.6,489.6 494,468.2 494.5,451.5 494.9,441.4 495.3,438.9 495.4,439.1 495.8,446 496.3,461.3 496.7,483 497.2,507.8 497.6,532.2 498.1,552.7 498.5,566.3 499,571.1 499,571.1 499.4,566.4 499.9,553.1 500.3,533.2 500.8,509.7 501.2,486.1 501.7,466.2 502.1,452.9 502.6,448.2 502.6,448.2 503,452.2 503.5,463.6 503.9,480.8 504.4,501.2 504.8,522 505.3,540.1 505.7,553 506.2,558.7 506.3,558.9 506.6,557.3 507.1,550.7 507.5,539.6 508,525.2 508.4,508.9 508.9,492.4 509.3,477.5 509.8,465.5 510.2,457.9 510.7,455.2 510.7,455.2 511.1,459.4 511.6,471.4 512,488.9 512.5,508.8 512.9,527.5 513.4,541.6 513.8,548.6 514,549.1 514.3,548.1 514.7,542.9 515.2,533.8 515.6,522.1 516.1,509.2 516.5,496.6 517,485.9 517.4,478.5 517.9,475.2 518,475.1 518.3,476 518.8,479.5 519.2,485.6 519.7,493.4 520.1,502.5 520.6,511.8 521,520.5 521.5,527.9 521.9,533.1 522.4,535.8 522.6,536.1 522.8,535.4 523.3,530.5 523.7,521.7 524.2,510.4 524.6,498.2 525.1,487.1 525.5,478.7 526,474.3 526.2,473.8 526.4,474.6 526.9,479.8 527.3,489.3 527.8,501.6 528.2,514.9 528.7,527.5 529.1,537.3 529.6,543.1 529.9,544.2 530,543.7 530.5,536.8 530.9,523.1 531.4,505.6 531.8,488 532.3,474.3 532.7,467.4 532.9,466.9 533.2,468.4 533.6,476 534.1,488.7 534.5,504.7 535,521.2 535.4,535.7 535.9,545.8 536.3,549.9 536.4,549.9 536.8,547.7 537.2,540.3 537.7,528.6 538.1,513.8 538.6,497.8 539,482.4 539.5,469.5 539.9,460.5 540.4,456.5 540.5,456.4 540.8,460.1 541.3,474.8 541.7,497.3 542.2,522.4 542.6,544.2 543.1,557.8 543.4,560.5 543.5,560.1 544,553.9 544.4,541 544.9,523.3 545.3,503.1 545.8,483.3 546.2,466.4 546.7,454.9 547.1,450.3 547.2,450.3 547.6,456 548,474.6 548.5,501.1 548.9,528.4 549.4,549.2 549.8,558 549.9,558.1 550.3,555.2 550.7,545.6 551.2,530.6 551.6,512.6 552.1,494.2 552.5,478.3 553,467.4 553.4,462.9 553.5,462.9 553.9,465.7 554.3,475 554.8,489.2 555.2,505.7 555.7,521.5 556.1,533.8 556.6,540.3 556.8,541 557,540.2 557.5,534.9 557.9,525.3 558.4,512.9 558.8,499.7 559.3,487.6 559.7,478.4 560.2,473.6 560.4,473.1 560.6,474.1 561.1,481 561.5,493 562,507.8 562.4,522.7 562.9,534.7 563.3,541.6 563.6,542.6 563.8,541.9 564.2,535.7 564.7,523.9 565.1,508.7 565.6,492.9 566,479.3 566.5,470.4 566.9,467.7 566.9,467.8 567.4,473 567.8,485.6 568.3,502.7 568.7,520.3 569.2,534.2 569.6,541.3 569.8,541.8 570.1,540.4 570.5,533.4 571,521.8 571.4,507.6 571.9,493.4 572.3,481.8 572.8,474.8 573.1,473.4 573.2,473.7 573.7,477.9 574.1,486.6 574.6,498.4 575,511.8 575.5,524.7 575.9,535.4 576.4,542.2 576.8,544.2 576.8,544.2 577.3,539.9 577.7,529.4 578.2,514.3 578.6,497.4 579.1,481.5 579.5,469.2 580,462.7 580.2,462 580.4,463.3 580.9,471.9 581.3,486.9 581.8,505.5 582.2,524.2 582.7,539.2 583.1,547.8 583.4,549.1 583.6,548.2 584,540.1 584.5,525.2 584.9,507.1 585.4,489.9 585.8,477.7 586.3,473.3 586.3,473.3 586.7,476.6 587.2,485.9 587.6,499.1 588.1,513.4 588.5,525.5 589,533 589.3,534.5 589.4,534.1 589.9,528.4 590.3,517.3 590.8,503.2 591.2,489.5 591.7,479.4 592.1,475.1 592.2,475.1 592.6,478.3 593,488.7 593.5,504.1 593.9,520.7 594.4,534.7 594.8,542.9 595.1,544.2 595.3,543.2 595.7,533.6 596.2,516.4 596.6,495.7 597.1,476.8 597.5,464.4 597.9,461.2 598,461.5 598.4,469.5 598.9,487 599.3,509.6 599.8,532.3 600.2,549.8 600.7,557.8 600.8,558.1 601.1,555.1 601.6,543 602,523.7 602.5,500.8 602.9,478.3 603.4,460.4 603.8,450.2 604.1,448.7 604.3,450.2 604.7,464.3 605.2,489.7 605.6,520.2 606.1,548.1 606.5,566.4 606.9,571.1 607,570.8 607.4,562.1 607.9,542.9 608.3,516.9 608.8,489.2 609.2,465 609.7,448.9 610.1,444.1 610.1,444.2 610.6,452.4 611,472.1 611.5,498.8 611.9,526.2 612.4,547.9 612.8,558.9 613,559.7 613.3,557.5 613.7,546.3 614.2,527.8 614.6,505.9 615.1,485 615.5,469.4 616,462.3 616.1,462 616.4,465.8 616.9,480.8 617.3,502.9 617.8,525.8 618.2,542.8 618.7,549.1 618.7,549.1 619.1,545.5 619.6,535.3 620,520.5 620.5,503.6 620.9,487.7 621.4,475.7 621.8,469.8 622,469.4 622.3,471.3 622.7,480.7 623.2,495.6 623.6,512.5 624.1,527 624.5,535.6 624.8,536.9 625,536.3 625.4,531.1 625.9,521.5 626.3,509.9 626.8,498.8 627.2,490.9 627.7,488.1 627.7,488.1 628.1,490.3 628.6,496.2 629,504.3 629.5,512.5 629.9,518.4 630.4,520.6 630.4,520.6 630.8,519 631.3,514.5 631.7,508.3 632.2,502 632.6,497 633.1,494.7 633.2,494.6 633.5,495.6 634,499.5 634.4,505.3 634.9,511.3 635.3,515.8 635.8,517.4 635.8,517.4 636.2,514.6 637.1,508.8 638,502.1 638.9,500.8 639.8,503.4 640.7,504.9 641.6,504.1 642.5,504.3 643.4,508.1 644.3,513.5 645.2,516 646.1,512.7 647,505.8 647.9,500.7 648.8,500.3 649.7,502.2 650.6,503 651.5,503.4 652.4,507.2 653.3,514.9 654.2,520.5 655.1,516.3 656,502.5 656.9,489.5 657.8,489.6 658.7,503.8 659.6,520.4 660.5,525.9 661.4,518 662.3,505.4 663.2,497.9 664.1,498.1 665,501.5 665.9,502.7 666.8,500.9 667.7,499.9 668.6,503.9 669.5,512.3 670.4,518.7 671.3,516.6 672.2,506.1 673.1,495.4 674,494 674.9,503.5 675.8,515.8 676.7,520.1 677.6,514.2 678.5,505.7 679.4,502.7 680.3,505.3 681.2,506.7 682.1,503 683,498.3 683.9,499.6 684.8,507.2 685.7,513.1 686.6,510.3 687.5,502.3 688.4,498.3 689.3,502.3 690.2,509.6 691.1,512.6 692,509 692.9,503.8 693.8,503 694.7,506.4 695.6,508.5 696.5,505.3 697.4,498.7 698.3,494.2 699.2,495.5 700.1,502 701,510 701.9,515.7 702.8,517 703.7,513.4 704.6,505.7 705.5,498.2 706.4,497.9 707.3,507.2 708.2,518.8 709.1,520.6 710,508.2 710.9,493.3 711.8,493.5 712.7,510.9 713.6,527.9 714.5,526.3 715.4,508 716.3,492.6 717.2,496.2 718.1,515 719,530.2 719.9,528.2 720.8,513.1 721.7,501 722.6,502.3 723.5,511.6 724.4,516.3 725.3,511.7 726.2,505.6 727.1,506.4 728,512.1 728.9,514.1 729.8,509.4 730.7,504.3 731.6,504.7 732.5,508.4 733.4,508.9 734.3,504.8 735.2,501.6 736.1,504.4 737,510.2 737.9,511.5 738.8,505.9 739.7,499.8 740.6,500.8 741.5,507.8 742.4,511.7 743.3,507 744.2,499 745.1,498.5 746,508.7 746.9,520 747.8,520.7 748.7,510.8 749.6,501.2 750.5,501 751.4,508.4 752.3,513.8 753.2,510.5 754.1,501.7 755,496.9 755.9,501.2 756.8,510.5 757.7,516.5 758.6,514.9 759.5,508.9 760.4,504.7 761.3,504.7 762.2,506.4 763.1,506.6 764,505.1 764.9,503.7 765.8,504.4 766.7,507.2 767.6,510.3 768.5,511.3 769.4,509.2 770.3,505.5 771.2,503.2 772.1,505.5 773,511.9 773.9,517.7 774.8,517.3 775.7,509.6 776.6,499.7 777.5,494.5 778.4,496.7 779.3,503.6 780.2,509.8 781.1,512 782,509.6 782.9,504.4 783.8,498.7 784.7,495.1 785.6,496.2 786.5,502.6 787.4,511 788.3,514.5 789.2,508.8 790.1,498.1 791,493.2 791.9,500.4 792.8,514.1 793.7,522.2 794.6,518.8 795.5,508.5 796.4,499.6 797.3,497 798.2,500.2 799.1,506.3 800,512.1 800.9,514.7 801.8,512.4 802.7,506.5 803.6,501.3 804.5,501.3 805.4,506.1 806.3,511.1 807.2,511.9 808.1,508.2 809,503.3 809.9,501.2 810.8,503.6 811.7,508.3 812.6,511.3 813.5,510.6 814.4,508 815.3,506.4 816.2,505.7 817.1,504.1 818,501 818.9,499.2 819.8,502.2 820.7,508.9 821.6,513.2 822.5,511.2 823.4,505.4 824.3,501.6 825.2,502 826.1,504.3 827,506.2 827.9,507.8 828.8,509.1 829.7,508.4 830.6,504.5 831.5,499.2 832.4,496.5 833.3,498.9 834.2,504.4 835.1,508.1 836,506.8 836.9,502.6 837.8,500.8 838.7,504.6 839.6,510.6 840.5,512.1 841.4,507 842.3,501.7 843.2,503.3 844.1,510.6 845,515.2 845.9,511.2 846.8,501.8 847.7,496.1 848.6,499.4 849.5,507.6 850.4,511.8 851.3,508.5 852.2,502.4 853.1,500.5 854,504.3 854.9,509.4 855.8,510.4 856.7,507.2 857.6,504 858.5,504.7 859.4,508.8 860.3,512.2 861.2,511.8 862.1,508 863,503.6 863.9,501.8 864.8,503.8 865.7,507.8 866.6,510.2 867.5,508.7 868.4,505.3 869.3,504.6 870.2,508.5 871.1,513.6 872,514.4 872.9,510.3 873.8,505.7 874.7,505.2 875.6,509.1 876.5,513.4 877.4,513.7 878.3,509.2 879.2,503.8 880.1,501.9 881,504.6 881.9,508.5 882.8,509.8 883.7,507.3 884.6,503.7 885.5,502.8 886.4,505.8 887.3,510.1 888.2,511.6 889.1,508.9 890,504.6 890.9,503.5 891.8,507.5 892.7,513.5 893.6,515.8 894.5,510.6 895.4,501.6 896.3,498.6 897.2,506.5 898.1,518 899,520.1 899.9,510.2 900.8,499.8 901.7,500.7 902.6,509.7 903.5,513.7 904.4,506.8 905.3,497.9 906.2,498.4 907.1,507.6 908,514.2 908.9,511 909.8,503.2 910.7,500.7 911.6,506.2 912.5,512.5 913.4,512.2 914.3,507 915.2,504.1 916.1,506.2 917,508.1 917.9,505.9 918.8,502.5 919.7,503.9 920.6,510.1 921.5,514.7 922.4,512.3 923.3,504.8 924.2,499.9 925.1,501.8 926,506.2 926.9,507.3 927.8,505.1 928.7,504.9 929.6,508.7 930.5,512.3 931.4,511 932.3,506.4 933.2,503.7 934.1,505.4 935,508.3 935.9,508.4 936.8,505.3 937.7,502.2 938.6,502.2 939.5,505 940.4,508 941.3,508.9 942.2,507.7 943.1,505.8 944,505 944.9,506.6 945.8,509.8 946.7,511.8 947.6,509.6 948.5,504.2 949.4,500.7 950.3,503.1 951.2,509.2 952.1,513 953,510.8 953.9,504.6 954.8,499.6 955.7,499.4 956.6,503.7 957.5,509.2 958.4,512.2 959.3,511.2 960.2,507.4 961.1,503.6 962,502.3 962.9,504.8 963.8,509.8 964.7,513.6 965.6,512.8 966.5,507.7 967.4,503.2 968.3,504.6 969.2,511.3 970.1,516.3 971,513.3 971.9,504.3 972.8,497.8 973.7,499.8 974.6,507.4 975.5,512.1 976.4,510.1 977.3,505.7 978.2,505.1 979.1,508.7 980,511.7 980.9,510.1 981.8,505.5 982.7,502.7 983.6,504.6 984.5,508.8 985.4,510.7 986.3,508.7 987.2,505.6 988.1,505.1 989,507.6 989.9,510.6 990.8,511 991.7,508.5 992.6,505.8 993.5,505.7 994.4,507.3 995.3,507.5 996.2,505.9 997.1,504.8 998,505.9 998.9,507.7 999.8,507.7 1000.7,506.2 1001.6,505.4 1002.5,506.2 1003.4,507 1004.3,506.6 1005.2,505.5 1006.1,505.5 1007,506.5 1007.9,506.3 1008.8,504.2 1009.7,503.6 1010.6,506.5 1011.5,510.2 1012.4,509.2 1013.3,503.7 1014.2,499.6 1015.1,502.1 1016,508.7 1016.9,511.6 1017.8,507.9 1018.7,502.7 1019.6,503.3 1020.5,510.1 1021.4,515.3 1022.3,512.4 1023.2,504.3 1024.1,499.7 1025,502.7 1025.9,508.7 1026.8,510.6 1027.7,506.7 1028.6,501.3 1029.5,499.3 1030.4,501.4 1031.3,504.1 1032.2,504.6 1033.1,503.4 1034,503.1 1034.9,505.1 1035.8,507.9 1036.7,509 1037.6,507.2 1038.5,503 1039.4,499 1040.3,497.6 1041.2,500.5 1042.1,506.2 1043,510.5 1043.9,509.7 1044.8,505.1 1045.7,502.2 1046.6,504 1047.5,508 1048.4,510.2 1049.3,509.1 1050.2,506.5 1051.1,505.2 1052,505.9 1052.9,506.7 1053.8,506.3 1054.7,506.3 1055.6,508 1056.5,509.4 1057.4,507.9 1058.3,504.8 1059.2,504.2 1060.1,507 1061,509 1061.9,506.7 1062.8,502.8 1063.7,502.8 1064.6,506.8 1065.5,509.3 1066.4,506.9 1067.3,503.6 1068.2,505 1069.1,510.6 1070,514.3 1070.9,512.4 1071.8,507.4 1072.7,504.8 1073.6,506.3 1074.5,509.1 1075.4,509.4 1076.3,507.3 1077.2,505.7 1078.1,507.1 1079,510.4 1079.9,512.6 1080.8,511.7 1081.7,508.6 1082.6,506 1083.5,506.1 1084.4,508.5 1085.3,510.6 1086.2,510.2 1087.1,507.6 1088,505.8 1088.9,506.8 1089.8,509.5 1090.7,510.9 1091.6,509.6 1092.5,507.9 1093.4,508.3 1094.3,509.5 1095.2,508.2 1096.1,504.4 1097,502.2 1097.9,504.1 1098.8,507.2 1099.7,506.7 1100.6,502.5 1101.5,500.2 1102.4,503 1103.3,508.2 1104.2,510.7 1105.1,508.7 1106,504.8 1106.9,502.8 1107.8,503.3 1108.7,503.9 1109.6,502.7 1110.5,501.3 1111.4,502.2 1112.3,505.2 1113.2,507.3 1114.1,506.7 1115,505 1115.9,504.7 1116.8,506 1117.7,507 1118.6,506.4 1119.5,505.9 1120.4,507.1 1121.3,509 1122.2,508.8 1123.1,506 1124,503.4 1124.9,503 1125.8,504.2 1126.7,504.6 1127.6,504 1128.5,504 1129.4,505.6 1130.3,508.2 1131.2,510 1132.1,509.8 1133,507.9 1133.9,506.2 1134.8,506.1 1135.7,507 1136.6,507.6 1137.5,507.1 1138.4,506.6 1139.3,507.7 1140.2,509.5 1141.1,509.1 1142,505.8 1142.9,502.9 1143.8,503.9 1144.7,508.5 1145.6,512.8 1146.5,513.1 1147.4,509.2 1148.3,504.9 1149.2,504.5 1150.1,508.3 1151,512.7 1151.9,513.7 1152.8,510.7 1153.7,506.9 1154.6,504.9 1155.5,504.3 1156.4,504.5 1157.3,505.7 1158.2,508.2 1159.1,510.4 1160,510.7 1160.9,508.9 1161.8,506.7 1162.7,505.8 1163.6,505.9 1164.5,505.5 1165.4,503.8 1166.3,502.6 1167.2,504.1 1168.1,507.9 1169,511.3 1169.9,512.1 1170.8,509.9 1171.7,506.4 1172.6,503 1173.5,501.4 1174.4,501.8 1175.3,503.4 1176.2,504 1177.1,503.1 1178,503.1 1178.9,506.1 1179.8,510.8 1180.7,512.8 1181.6,510.2 1182.5,505.9 1183.4,504.1 1184.3,505.1 1185.2,506.4 1186.1,506.5 1187,506.1 1187.9,506.9 1188.8,508.5 1189.7,508.6 1190.6,506.2 1191.5,503.2 1192.4,502.4 1193.3,504 1194.2,505.9 1195.1,506.1 1196,504.9 1196.9,504 1197.8,504.6 1198.7,505.7 1199.6,506.6 1200.5,507.9 1201.4,510.1 1202.3,511.7 1203.2,510.6 1204.1,507.4 1205,504.6 1205.9,503.5 1206.8,503.5 1207.7,504.6 1208.6,507.8 1209.5,511.4 1210.4,511.3 1211.3,505.5 1212.2,498.4 1213.1,496.4 1214,501.5 1214.9,508.3 1215.8,510.5 1216.7,507.5 1217.6,504 1218.5,504 1219.4,506.7 1220.3,508.1 1221.2,506.9 1222.1,505.4 1223,505.5 1223.9,506.4 1224.8,505.8 1225.7,503.6 1226.6,502 1227.5,502.7 1228.4,504.9 1229.3,506.4 1230.2,506.5 1231.1,506.6 1232,508.1 1232.9,510.3 1233.8,511 1234.7,508.9 1235.6,505.4 1236.5,503.3 1237.4,503.5 1238.3,504.3 1239.2,504.7 1240.1,505.5 1241,507.5 1241.9,508.8 1242.8,507.2 1243.7,503.4 1244.6,501.2 1245.5,503 1246.4,507.1 1247.3,509.6 1248.2,508.6 1249.1,506.1 1250,505.6 1250.9,508.1 1251.8,511.5 1252.7,512.6 1253.6,510.4 1254.5,506.3 1255.4,503 1256.3,503.2 1257.2,507.9 1258.1,514.6 1259,518 1259.9,514.5 1260.8,506.1 1261.7,499.6 1262.6,499.3 1263.5,503.4 1264.4,507.2 1265.3,508.6 1266.2,509 1267.1,509.6 1268,509.1 1268.9,506.8 1269.8,504.5 1270.7,504.7 1271.6,506.6 1272.5,507.6 1273.4,506.5 1274.3,505.5 1275.2,506.7 1276.1,508.6 1277,508.1 1277.9,504.7 1278.8,501.7 1279.7,501.7 1280.6,503.6 1281.5,505 1282.4,506 1283.3,507.3 1284.2,507.7 1285.1,505.9 1286,503.4 1286.9,502.8 1287.8,504 1288.7,505.5 1289.6,507.2 1290.5,508.9 1291.4,509 1292.3,506.7 1293.2,504.4 1294.1,503.9 1295,504.9 1295.9,506.9 1296.8,508.8" fill="none" stroke="#c9c900" stroke-width="2.05" stroke-linejoin="round"/>
<path d="M333.4,726.6 349.8,725.8 366.3,725 382.7,724.2 399.1,723.4 415.6,722.6 432,721.8 448.4,721 464.8,720.3 481.3,719.5 497.7,718.7 514.1,717.9 530.6,717.1 547,716.4 563.4,715.6 579.9,714.8 596.3,714.1 612.7,713.3 629.1,712.6 645.6,711.8 662,711.1 678.4,710.3 694.9,709.6 711.3,708.8 727.7,708.1 744.2,707.4 760.6,706.6 777,705.9 793.5,705.2 809.9,704.5 826.3,703.7 842.7,703 859.2,702.3 875.6,701.6 892,700.9 908.5,700.2 924.9,699.5 941.3,698.8 957.8,698.1 974.2,697.4 990.6,696.7 1007.1,696 1023.5,695.3 1039.9,694.6 1056.3,694 1072.8,693.3 1089.2,692.6 1105.6,691.9 1122.1,691.3 1138.5,690.6 1154.9,689.9 1171.4,689.3 1187.8,688.6 1204.2,688 1220.6,687.3 1237.1,686.7 1253.5,686 1269.9,685.4 1286.4,684.7 1302.8,684.1" fill="none" stroke="#ff0000" stroke-width="4.5" stroke-linecap="round"/>
<path d="M325.1,751.8 326.7,750.1 328.3,748.7 330,748.1 331.6,748.2 333.2,748.4 334.8,748.8 336.4,749.4 338.1,750 339.7,751.5 341.3,754.3 342.9,756.4 344.5,756.1 346.2,752.9 347.8,748.7 349.4,745.1 351,744.1 352.6,746.4 354.3,750.8 355.9,755.7 357.5,759.7 359.1,762.2 360.7,764.5 362.4,765.9 364,765.4 365.6,762.5 367.2,757.4 368.8,747.8 370.5,738.9 372.1,735.8 373.7,736 375.3,737.1 376.9,739.1 378.6,741.8 380.2,744.7 381.8,747.7 383.4,751.7 385,756.9 386.7,762.1 388.3,766.6 389.9,769.2 391.5,769.4 393.1,767.5 394.8,761.9 396.4,755.3 398,750.8 399.6,747.9 401.2,745.1 402.9,742.6 404.5,740.4 406.1,738.8 407.7,737.8 409.3,737.5 411,738.4 412.6,740.2 414.2,743.1 415.8,748.8 417.4,754.9 419.1,759.3 420.7,763.5 422.3,767 423.9,769 425.5,769.1 427.2,766.1 428.8,758.9 430.4,752.6 432,749.5 433.6,746.7 435.3,744.5 436.9,743.2 438.5,743.3 440.1,744.9 441.7,745.6 443.4,745.8 445,745.9 446.6,746 448.2,747.2 449.8,750.6 451.5,754.1 453.1,755.7 454.7,753.8 456.3,749.5 457.9,745.4 459.6,744 461.2,744.9 462.8,746.6 464.4,749 466,751.5 467.7,754.6 469.3,758.7 470.9,761 472.5,759.4 474.1,756.6 475.8,756.1 477.4,757.8 479,759.5 480.6,759.5 482.2,757.3 483.9,754.3 485.5,751.7 487.1,750 488.7,748.5 490.3,747.2 492,746.3 493.6,746.2 495.2,747 496.8,748.5 498.4,750.4 500.1,752.4 501.7,755.3 503.3,757.8 504.9,758.4 506.5,757.6 508.2,748.8 509.8,739.3 511.4,738.8 513,740.1 514.6,740.2 516.3,740.3 517.9,741 519.5,746.3 521.1,753.5 522.7,758.3 524.4,760 526,761.4 527.6,762.3 529.2,762.4 530.8,760 532.5,755.8 534.1,752.4 535.7,751.8 537.3,754.2 538.9,757 540.6,758 542.2,758 543.8,758 545.4,758 547,756.7 548.7,753.9 550.3,750.9 551.9,748.8 553.5,746.9 555.1,745.2 556.8,743.7 558.4,742.7 560,742.5 561.6,744.1 563.2,746.9 564.9,749.3 566.5,751.1 568.1,752.9 569.7,754.4 571.3,755.2 573,755.3 574.6,755.1 576.2,754.7 577.8,754.2 579.4,753.4 581.1,749.1 582.7,742.8 584.3,738.3 585.9,738.9 587.5,743.3 589.2,749.2 590.8,754.4 592.4,760.3 594,766.3 595.6,771 597.3,772.7 598.9,770.2 600.5,764.9 602.1,758.9 603.7,754.2 605.4,750.5 607,746.7 608.6,743.6 610.2,741.8 611.8,741.7 613.5,742.4 615.1,743.6 616.7,744.9 618.3,746.6 619.9,749.3 621.6,752 623.2,753.9 624.8,754.2 626.4,753.3 628,751.7 629.7,750.1 631.3,748.9 632.9,748.1 634.5,747.5 636.1,747.1 637.8,748.6 639.4,752.9 641,756.8 642.6,757.8 644.2,758.2 645.9,759.1 647.5,760.6 649.1,761.9 650.7,761.6 652.3,758.9 654,755.2 655.6,751.7 657.2,749.1 658.8,747.9 660.4,747.6 662.1,747.2 663.7,745.4 665.3,742 666.9,739.5 668.5,740.8 670.2,746.4 671.8,752.8 673.4,756.2 675,756 676.6,755.1 678.3,753.8 679.9,752.5 681.5,751.3 683.1,750.7 684.7,750.8 686.4,752.2 688,754.1 689.6,756 691.2,757.2 692.8,756.7 694.5,752.6 696.1,747.4 697.7,744.2 699.3,744.4 700.9,745.8 702.6,746.9 704.2,747.1 705.8,746.8 707.4,746.5 709,746.2 710.7,746.2 712.3,748.4 713.9,752.7 715.5,757 717.1,759.6 718.8,759.1 720.4,757 722,755.7 723.6,756.9 725.2,759.9 726.9,763.1 728.5,765 730.1,764 731.7,760 733.3,755 735,751.3 736.6,748.8 738.2,746.5 739.8,744.5 741.4,743.3 743.1,743.2 744.7,745.4 746.3,746 747.9,746.1 749.5,746.2 751.2,748.8 752.8,753 754.4,755.3 756,752.7 757.6,746.4 759.3,740.4 760.9,738.4 762.5,742 764.1,748.2 765.7,753.4 767.4,755.1 769,755.9 770.6,756.8 772.2,759.1 773.8,764.6 775.5,770.3 777.1,772.7 778.7,771.9 780.3,769.9 781.9,766.9 783.6,763.3 785.2,759.4 786.8,752.8 788.4,742.6 790,732 791.7,724 793.3,721.6 794.9,725.9 796.5,734.1 798.1,743.1 799.8,750.1 801.4,756.2 803,762.4 804.6,767.7 806.2,771.5 807.9,772.7 809.5,769.4 811.1,762.5 812.7,754.7 814.3,748.4 816,745.2 817.6,742.4 819.2,740 820.8,738.3 822.4,737.5 824.1,739.1 825.7,744.2 827.3,750.8 828.9,757 830.5,760.8 832.2,763.2 833.8,765 835.4,765.3 837,762 838.6,756.5 840.3,751.7 841.9,748.4 843.5,745.4 845.1,743.3 846.7,743.1 848.4,744.1 850,745.8 851.6,747.6 853.2,749.2 854.8,751.1 856.5,753.2 858.1,755.2 859.7,756.5 861.3,756.9 862.9,756.8 864.6,756.5 866.2,756.1 867.8,755.5 869.4,754.8 871,751.6 872.7,746.3 874.3,741.5 875.9,739.3 877.5,741.9 879.1,747.7 880.8,753.7 882.4,756.9 884,757.1 885.6,757.3 887.2,757.4 888.9,756.7 890.5,754.4 892.1,751.9 893.7,750.6 895.3,751 897,752.1 898.6,753.3 900.2,754.4 901.8,754.9 903.4,754.5 905.1,753.2 906.7,751.6 908.3,749.9 909.9,748.4 911.5,747.6 913.2,748.6 914.8,753.8 916.4,760.1 918,763.8 919.6,763.1 921.3,760.3 922.9,756.6 924.5,753 926.1,750.2 927.7,747.4 929.4,744.6 931,742.5 932.6,741.6 934.2,742.5 935.8,744.7 937.5,747.3 939.1,749.5 940.7,751.7 942.3,753.9 943.9,755.4 945.6,755.5 947.2,752.8 948.8,748.5 950.4,744.5 952,742.6 953.7,745.4 955.3,751.9 956.9,758.5 958.5,761.6 960.1,762.6 961.8,763.4 963.4,763.9 965,764.1 966.6,762.2 968.2,755.7 969.9,748.2 971.5,743.4 973.1,743.7 974.7,745.9 976.3,747.6 978,746.7 979.6,743.3 981.2,739.3 982.8,736.3 984.4,736.3 986.1,739.8 987.7,744.7 989.3,749.6 990.9,755.8 992.5,761.1 994.2,762.9 995.8,762.6 997.4,761.8 999,760.6 1000.6,759.2 1002.3,757.6 1003.9,755.1 1005.5,751.2 1007.1,747.8 1008.7,746.2 1010.4,744.9 1012,743.8 1013.6,743 1015.2,742.6 1016.8,743.1 1018.5,745.2 1020.1,748.4 1021.7,752 1023.3,758 1024.9,763.5 1026.6,764.8 1028.2,760.6 1029.8,755.6 1031.4,754.5 1033,755.8 1034.7,756.9 1036.3,755.6 1037.9,752 1039.5,748.1 1041.1,745.8 1042.8,743.9 1044.4,742.2 1046,740.9 1047.6,740 1049.2,739.9 1050.9,740.2 1052.5,740.9 1054.1,741.8 1055.7,742.9 1057.3,746.2 1059,751.8 1060.6,756.8 1062.2,759.2 1063.8,760.8 1065.4,763.5 1067.1,769.4 1068.7,776.1 1070.3,779.8 1071.9,777.6 1073.5,770.6 1075.2,761.7 1076.8,753.3 1078.4,746.7 1080,739.4 1081.6,732.8 1083.3,728.7 1084.9,728.4 1086.5,731 1088.1,735.2 1089.7,740.2 1091.4,745 1093,748.6 1094.6,751.9 1096.2,755.3 1097.8,758.4 1099.5,760.9 1101.1,762.3 1102.7,762.1 1104.3,759.7 1105.9,755.8 1107.6,751.5 1109.2,747.9 1110.8,746.2 1112.4,747.6 1114,751.9 1115.7,756.3 1117.3,759.3 1118.9,761.4 1120.5,760.9 1122.1,758.6 1123.8,755.3 1125.4,752.1 1127,749.5 1128.6,746.8 1130.2,744.1 1131.9,741.9 1133.5,740.7 1135.1,741 1136.7,743 1138.3,745.8 1140,749 1141.6,751.9 1143.2,754.5 1144.8,757.4 1146.4,760.1 1148.1,762.2 1149.7,762.9 1151.3,760.6 1152.9,755.5 1154.5,749.3 1156.2,743.8 1157.8,740.8 1159.4,741.3 1161,744 1162.6,747.4 1164.3,750.2 1165.9,751.8 1167.5,753.3 1169.1,755.5 1170.7,759.6 1172.4,763.9 1174,766.2 1175.6,763.9 1177.2,758.2 1178.8,753.1 1180.5,752.2 1182.1,752.2 1183.7,752.2 1185.3,749.9 1186.9,744.4 1188.6,739 1190.2,736.9 1191.8,737.3 1193.4,738.1 1195,739.4 1196.7,741 1198.3,742.9 1199.9,745.3 1201.5,750.2 1203.1,755.6 1204.8,758.4 1206.4,757.5 1208,755.7 1209.6,754.9 1211.2,757.3 1212.9,761.1 1214.5,763.1 1216.1,760.8 1217.7,756.1 1219.3,752.9 1221,753.7 1222.6,756.1 1224.2,758.2 1225.8,757.1 1227.4,751.2 1229.1,743.8 1230.7,738.4 1232.3,737.6 1233.9,738.2 1235.5,739.3 1237.2,740.5 1238.8,741.8 1240.4,742.9 1242,744.1 1243.6,745.4 1245.3,746.9 1246.9,749 1248.5,753 1250.1,757.6 1251.7,760.7 1253.4,760.3 1255,757.5 1256.6,755.4 1258.2,758.5 1259.8,766.4 1261.5,771.1 1263.1,771 1264.7,767 1266.3,753.8 1267.9,740 1269.6,734.4 1271.2,737.3 1272.8,742.5 1274.4,746.3 1276,746.6 1277.7,746.2 1279.3,745.7 1280.9,745.3 1282.5,744.7 1284.1,744.3 1285.8,744 1287.4,744.8 1289,747.5 1290.6,750.8 1292.2,754.8 1293.9,759.6 1295.4,764.9" fill="none" stroke="#bebebe" stroke-width="2" stroke-linejoin="round"/>
</g>
<path d="M1135.3,638.8H1297.3M1135.3,631.6V646M1297.3,631.6V646" stroke="#bebebe" stroke-width="4" fill="none"/>
<path d="M211.9,480.6V532.6M204.7,480.6H219.1M204.7,532.6H219.1" stroke="#bebebe" stroke-width="2" fill="none"/>
<circle cx="211.9" cy="506.8" r="4.2" fill="#000"/>
<path d="M163.3,902.8v10.8M163.3,110.8v-10.8M179.5,902.8v5.4M179.5,110.8v-5.4M195.7,902.8v5.4M195.7,110.8v-5.4M211.9,902.8v5.4M211.9,110.8v-5.4M228.1,902.8v5.4M228.1,110.8v-5.4M244.3,902.8v5.4M244.3,110.8v-5.4M260.5,902.8v5.4M260.5,110.8v-5.4M276.7,902.8v5.4M276.7,110.8v-5.4M292.9,902.8v5.4M292.9,110.8v-5.4M309.1,902.8v5.4M309.1,110.8v-5.4M325.3,902.8v10.8M325.3,110.8v-10.8M341.5,902.8v5.4M341.5,110.8v-5.4M357.7,902.8v5.4M357.7,110.8v-5.4M373.9,902.8v5.4M373.9,110.8v-5.4M390.1,902.8v5.4M390.1,110.8v-5.4M406.3,902.8v5.4M406.3,110.8v-5.4M422.5,902.8v5.4M422.5,110.8v-5.4M438.7,902.8v5.4M438.7,110.8v-5.4M454.9,902.8v5.4M454.9,110.8v-5.4M471.1,902.8v5.4M471.1,110.8v-5.4M487.3,902.8v10.8M487.3,110.8v-10.8M503.5,902.8v5.4M503.5,110.8v-5.4M519.7,902.8v5.4M519.7,110.8v-5.4M535.9,902.8v5.4M535.9,110.8v-5.4M552.1,902.8v5.4M552.1,110.8v-5.4M568.3,902.8v5.4M568.3,110.8v-5.4M584.5,902.8v5.4M584.5,110.8v-5.4M600.7,902.8v5.4M600.7,110.8v-5.4M616.9,902.8v5.4M616.9,110.8v-5.4M633.1,902.8v5.4M633.1,110.8v-5.4M649.3,902.8v10.8M649.3,110.8v-10.8M665.5,902.8v5.4M665.5,110.8v-5.4M681.7,902.8v5.4M681.7,110.8v-5.4M697.9,902.8v5.4M697.9,110.8v-5.4M714.1,902.8v5.4M714.1,110.8v-5.4M730.3,902.8v5.4M730.3,110.8v-5.4M746.5,902.8v5.4M746.5,110.8v-5.4M762.7,902.8v5.4M762.7,110.8v-5.4M778.9,902.8v5.4M778.9,110.8v-5.4M795.1,902.8v5.4M795.1,110.8v-5.4M811.3,902.8v10.8M811.3,110.8v-10.8M827.5,902.8v5.4M827.5,110.8v-5.4M843.7,902.8v5.4M843.7,110.8v-5.4M859.9,902.8v5.4M859.9,110.8v-5.4M876.1,902.8v5.4M876.1,110.8v-5.4M892.3,902.8v5.4M892.3,110.8v-5.4M908.5,902.8v5.4M908.5,110.8v-5.4M924.7,902.8v5.4M924.7,110.8v-5.4M940.9,902.8v5.4M940.9,110.8v-5.4M957.1,902.8v5.4M957.1,110.8v-5.4M973.3,902.8v10.8M973.3,110.8v-10.8M989.5,902.8v5.4M989.5,110.8v-5.4M1005.7,902.8v5.4M1005.7,110.8v-5.4M1021.9,902.8v5.4M1021.9,110.8v-5.4M1038.1,902.8v5.4M1038.1,110.8v-5.4M1054.3,902.8v5.4M1054.3,110.8v-5.4M1070.5,902.8v5.4M1070.5,110.8v-5.4M1086.7,902.8v5.4M1086.7,110.8v-5.4M1102.9,902.8v5.4M1102.9,110.8v-5.4M1119.1,902.8v5.4M1119.1,110.8v-5.4M1135.3,902.8v10.8M1135.3,110.8v-10.8M1151.5,902.8v5.4M1151.5,110.8v-5.4M1167.7,902.8v5.4M1167.7,110.8v-5.4M1183.9,902.8v5.4M1183.9,110.8v-5.4M1200.1,902.8v5.4M1200.1,110.8v-5.4M1216.3,902.8v5.4M1216.3,110.8v-5.4M1232.5,902.8v5.4M1232.5,110.8v-5.4M1248.7,902.8v5.4M1248.7,110.8v-5.4M1264.9,902.8v5.4M1264.9,110.8v-5.4M1281.1,902.8v5.4M1281.1,110.8v-5.4M1297.3,902.8v10.8M1297.3,110.8v-10.8M1313.5,902.8v5.4M1313.5,110.8v-5.4M1329.7,902.8v5.4M1329.7,110.8v-5.4M1345.9,902.8v5.4M1345.9,110.8v-5.4M1362.1,902.8v5.4M1362.1,110.8v-5.4M1378.3,902.8v5.4M1378.3,110.8v-5.4M1394.5,902.8v5.4M1394.5,110.8v-5.4M1410.7,902.8v5.4M1410.7,110.8v-5.4M1426.9,902.8v5.4M1426.9,110.8v-5.4M1443.1,902.8v5.4M1443.1,110.8v-5.4M1459.3,902.8v10.8M1459.3,110.8v-10.8M163.3,902.8h-10.8M163.3,889.6h-5.4M163.3,876.4h-5.4M163.3,863.2h-5.4M163.3,850h-5.4M163.3,836.8h-5.4M163.3,823.6h-5.4M163.3,810.4h-5.4M163.3,797.2h-5.4M163.3,784h-5.4M163.3,770.8h-10.8M163.3,757.6h-5.4M163.3,744.4h-5.4M163.3,731.2h-5.4M163.3,718h-5.4M163.3,704.8h-5.4M163.3,691.6h-5.4M163.3,678.4h-5.4M163.3,665.2h-5.4M163.3,652h-5.4M163.3,638.8h-10.8M163.3,625.6h-5.4M163.3,612.4h-5.4M163.3,599.2h-5.4M163.3,586h-5.4M163.3,572.8h-5.4M163.3,559.6h-5.4M163.3,546.4h-5.4M163.3,533.2h-5.4M163.3,520h-5.4M163.3,506.8h-10.8M163.3,493.6h-5.4M163.3,480.4h-5.4M163.3,467.2h-5.4M163.3,454h-5.4M163.3,440.8h-5.4M163.3,427.6h-5.4M163.3,414.4h-5.4M163.3,401.2h-5.4M163.3,388h-5.4M163.3,374.8h-10.8M163.3,361.6h-5.4M163.3,348.4h-5.4M163.3,335.2h-5.4M163.3,322h-5.4M163.3,308.8h-5.4M163.3,295.6h-5.4M163.3,282.4h-5.4M163.3,269.2h-5.4M163.3,256h-5.4M163.3,242.8h-10.8M163.3,229.6h-5.4M163.3,216.4h-5.4M163.3,203.2h-5.4M163.3,190h-5.4M163.3,176.8h-5.4M163.3,163.6h-5.4M163.3,150.4h-5.4M163.3,137.2h-5.4M163.3,124h-5.4M163.3,110.8h-10.8M1459.3,500.2h5.4M1459.3,493.6h5.4M1459.3,487h5.4M1459.3,480.4h5.4M1459.3,473.8h5.4M1459.3,467.2h5.4M1459.3,460.6h5.4M1459.3,454h5.4M1459.3,447.4h5.4M1459.3,440.8h10.8M1459.3,434.2h5.4M1459.3,427.6h5.4M1459.3,421h5.4M1459.3,414.4h5.4M1459.3,407.8h5.4M1459.3,401.2h5.4M1459.3,394.6h5.4M1459.3,388h5.4M1459.3,381.4h5.4M1459.3,374.8h10.8M1459.3,368.2h5.4M1459.3,361.6h5.4M1459.3,355h5.4M1459.3,348.4h5.4M1459.3,341.8h5.4M1459.3,335.2h5.4M1459.3,328.6h5.4M1459.3,322h5.4M1459.3,315.4h5.4M1459.3,308.8h10.8M1459.3,302.2h5.4M1459.3,295.6h5.4M1459.3,289h5.4M1459.3,282.4h5.4M1459.3,275.8h5.4M1459.3,269.2h5.4M1459.3,262.6h5.4M1459.3,256h5.4M1459.3,249.4h5.4M1459.3,242.8h10.8M1459.3,236.2h5.4M1459.3,229.6h5.4M1459.3,223h5.4M1459.3,216.4h5.4M1459.3,209.8h5.4M1459.3,203.2h5.4M1459.3,196.6h5.4M1459.3,190h5.4M1459.3,183.4h5.4M1459.3,176.8h10.8M1459.3,170.2h5.4M1459.3,163.6h5.4M1459.3,157h5.4M1459.3,150.4h5.4M1459.3,143.8h5.4M1459.3,137.2h5.4M1459.3,130.6h5.4M1459.3,124h5.4M1459.3,117.4h5.4M1459.3,902.8h10.8M1459.3,889.6h5.4M1459.3,876.4h5.4M1459.3,863.2h5.4M1459.3,850h5.4M1459.3,836.8h10.8M1459.3,823.6h5.4M1459.3,810.4h5.4M1459.3,797.2h5.4M1459.3,784h5.4M1459.3,770.8h10.8M1459.3,757.6h5.4M1459.3,744.4h5.4M1459.3,731.2h5.4M1459.3,718h5.4M1459.3,704.8h10.8M1459.3,691.6h5.4M1459.3,678.4h5.4M1459.3,665.2h5.4M1459.3,652h5.4M1459.3,638.8h10.8M1459.3,625.6h5.4M1459.3,612.4h5.4M1459.3,599.2h5.4M1459.3,586h5.4M1459.3,572.8h10.8M1459.3,559.6h5.4M1459.3,546.4h5.4M1459.3,533.2h5.4M1459.3,520h5.4" stroke="#000" stroke-width="1" fill="none"/>
<rect x="163.3" y="110.8" width="1296.0" height="792.0" fill="none" stroke="#000" stroke-width="2.5"/>
<path d="M1346.0,110.8V506.79999999999995M1329.4,110.8H1362.4M1329.4,506.79999999999995H1362.4M1346.0,150.4h8M1346.0,190h8M1346.0,229.6h8M1346.0,269.2h8M1346.0,308.8h8M1346.0,348.4h8M1346.0,388h8M1346.0,427.6h8M1346.0,467.2h8" stroke="#32adad" stroke-width="1.35" fill="none"/>
<g font-size="28" fill="#000">
<text x="163.3" y="943.5" text-anchor="middle">-10</text>
<text x="325.3" y="943.5" text-anchor="middle">0</text>
<text x="487.3" y="943.5" text-anchor="middle">10</text>
<text x="649.3" y="943.5" text-anchor="middle">20</text>
<text x="811.3" y="943.5" text-anchor="middle">30</text>
<text x="973.3" y="943.5" text-anchor="middle">40</text>
<text x="1135.3" y="943.5" text-anchor="middle">50</text>
<text x="1297.3" y="943.5" text-anchor="middle">60</text>
<text x="1459.3" y="943.5" text-anchor="middle">70</text>
<text x="142.2" y="913.2" text-anchor="end">-300</text>
<text x="142.2" y="781.2" text-anchor="end">-200</text>
<text x="142.2" y="649.2" text-anchor="end">-100</text>
<text x="142.2" y="517.2" text-anchor="end">0</text>
<text x="142.2" y="385.2" text-anchor="end">100</text>
<text x="142.2" y="253.2" text-anchor="end">200</text>
<text x="142.2" y="121.2" text-anchor="end">300</text>
<text x="1480" y="450.2">1016</text>
<text x="1480" y="384.2">1017</text>
<text x="1480" y="318.2">1018</text>
<text x="1480" y="252.2">1019</text>
<text x="1480" y="186.2">1020</text>
<text x="1551" y="912.8" text-anchor="end">-1500</text>
<text x="1551" y="846.8" text-anchor="end">-1000</text>
<text x="1551" y="780.8" text-anchor="end">-500</text>
<text x="1551" y="714.8" text-anchor="end">0</text>
<text x="1551" y="648.8" text-anchor="end">500</text>
<text x="1551" y="582.8" text-anchor="end">1000</text>
</g>
<g font-size="48" fill="#000" text-anchor="middle">
<text x="811.0" y="1005.8">Time [min] from 2026-04-18 16:01:00 UTC</text>
<text transform="translate(59.3 506.8) rotate(-90)">Obs’d Gravity [nm/s<tspan font-size="33.6" dy="-16">2</tspan><tspan dy="16">]</tspan></text>
<text transform="translate(1604.2 308.8) rotate(-90)">Pressure [hPa]</text>
<text transform="translate(1613 703.9) rotate(-90)">Tide [nm/s<tspan font-size="33.6" dy="-16">2</tspan><tspan dy="16">]</tspan></text>
</g>
<g font-size="24" fill="#000" text-anchor="middle">
<text transform="translate(245.4 506.8) rotate(-90)">Typical noise level</text>
<text transform="translate(1387.3 309) rotate(-90)">1 DIV = 0.5 hPa/h</text>
<text transform="translate(1425.7 309) rotate(-90)">average = -0.5413</text>
</g>
<g font-size="28" font-weight="bold" fill="#000">
<text y="888.1"><tspan x="191.5">The </tspan><tspan x="247.9">latest </tspan><tspan x="330.7">1-hour, </tspan><tspan x="432.3">1-second </tspan><tspan x="561.4">sampling </tspan></text>
<text y="888.1"><tspan x="1011.3">End </tspan><tspan x="1070.8">at </tspan><tspan x="1103.8">2026-04-18 </tspan><tspan x="1254.7">17:00:59 </tspan><tspan x="1373.2">UTC </tspan></text>
</g>
<text y="81.8" font-size="32" font-weight="bold" fill="#000"><tspan x="559.8">SCG_054 </tspan><tspan x="709.6">gravimeter </tspan><tspan x="883.3">Onsala </tspan><tspan x="999.7">Space </tspan><tspan x="1103.2">Observatory, </tspan><tspan x="1310.5">Sweden </tspan></text>
<rect x="167" y="18.4" width="372.8" height="163.2" fill="#fff" stroke="#666" stroke-width="1"/>
<path d="M204,39.3H260" stroke="#0000ff" stroke-width="0.8"/><circle cx="232" cy="39.3" r="4.3" fill="#0000ff"/>
<path d="M204,69.7H260" stroke="#00c3c3" stroke-width="0.8"/><circle cx="232" cy="69.7" r="4.3" fill="#00c3c3"/>
<path d="M204,100.3H260" stroke="#000" stroke-width="2.8"/>
<path d="M204,130.5H260" stroke="#bebebe" stroke-width="3"/>
<path d="M204,160.9H260" stroke="#ff0000" stroke-width="0.8"/><circle cx="232" cy="160.9" r="4.3" fill="#ff0000"/>
<g font-size="24" fill="#000">
<text x="279" y="47.9">Pressure</text>
<text x="279" y="78.3">dP/dt low-passed</text>
<text x="279" y="108.7">Residual</text>
<text x="279" y="139.1">... last 10 min.</text>
<text x="279" y="169.5">Theor.Tide</text>
</g>
</svg>
</body></html>
